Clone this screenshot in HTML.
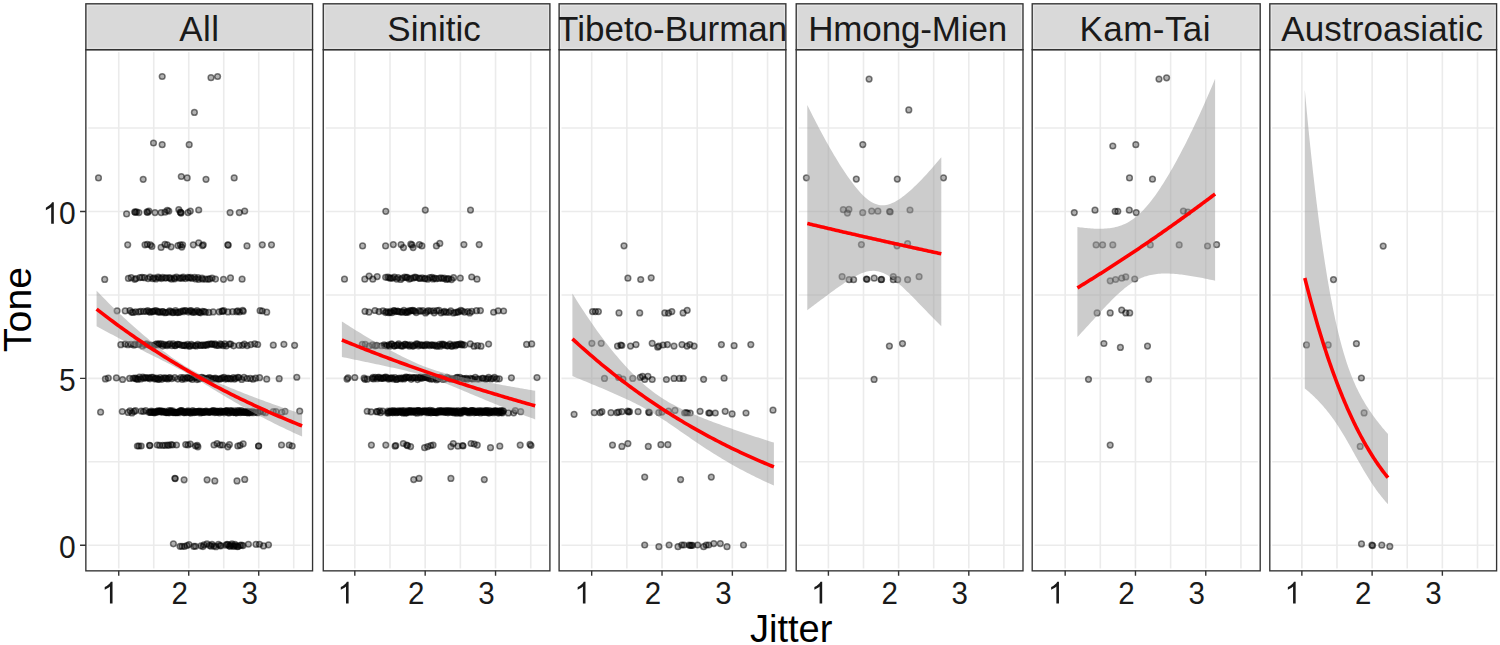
<!DOCTYPE html><html><head><meta charset="utf-8"><style>html,body{margin:0;padding:0;background:#fff;overflow:hidden}svg{display:block}text{font-family:"Liberation Sans",sans-serif}</style></head><body>
<svg width="1500" height="645" viewBox="0 0 1500 645">
<rect width="1500" height="645" fill="#fff"/>
<rect x="85.85" y="3.80" width="226.71" height="45.90" fill="#D9D9D9"/>
<rect x="87.35" y="5.30" width="223.71" height="42.90" fill="none" stroke="#E6E6E6" stroke-width="1"/>
<rect x="85.85" y="49.70" width="226.71" height="521.15" fill="#fff"/>
<path d="M118.74 49.70V570.85M153.74 49.70V570.85M188.73 49.70V570.85M223.73 49.70V570.85M258.72 49.70V570.85M293.72 49.70V570.85M85.85 545.26H312.56M85.85 461.82H312.56M85.85 378.38H312.56M85.85 294.94H312.56M85.85 211.50H312.56M85.85 128.06H312.56" stroke="#EBEBEB" stroke-width="1.6" fill="none"/>
<rect x="87.45" y="51.30" width="223.51" height="517.95" fill="none" stroke="#fff" stroke-width="1.6"/>
<g clip-path="url(#c0)">
<clipPath id="c0"><rect x="85.85" y="49.70" width="226.71" height="521.15"/></clipPath>
<g fill="#000" fill-opacity="0.3" stroke="#000" stroke-opacity="0.5" stroke-width="1.5">
<circle cx="104.70" cy="279.39" r="2.85"/>
<circle cx="128.40" cy="278.45" r="2.85"/>
<circle cx="223.50" cy="279.28" r="2.85"/>
<circle cx="230.50" cy="277.94" r="2.85"/>
<circle cx="242.10" cy="279.13" r="2.85"/>
<circle cx="131.26" cy="277.67" r="2.85"/>
<circle cx="134.73" cy="279.32" r="2.85"/>
<circle cx="136.01" cy="278.48" r="2.85"/>
<circle cx="139.89" cy="277.57" r="2.85"/>
<circle cx="142.09" cy="277.39" r="2.85"/>
<circle cx="144.48" cy="277.66" r="2.85"/>
<circle cx="148.09" cy="278.62" r="2.85"/>
<circle cx="149.97" cy="277.08" r="2.85"/>
<circle cx="152.62" cy="278.68" r="2.85"/>
<circle cx="154.14" cy="277.80" r="2.85"/>
<circle cx="155.88" cy="278.96" r="2.85"/>
<circle cx="158.07" cy="277.20" r="2.85"/>
<circle cx="159.17" cy="278.00" r="2.85"/>
<circle cx="161.50" cy="278.59" r="2.85"/>
<circle cx="162.58" cy="277.44" r="2.85"/>
<circle cx="165.12" cy="278.04" r="2.85"/>
<circle cx="166.28" cy="277.79" r="2.85"/>
<circle cx="168.91" cy="277.80" r="2.85"/>
<circle cx="170.09" cy="277.91" r="2.85"/>
<circle cx="171.60" cy="279.13" r="2.85"/>
<circle cx="174.11" cy="277.92" r="2.85"/>
<circle cx="174.73" cy="278.80" r="2.85"/>
<circle cx="176.45" cy="277.07" r="2.85"/>
<circle cx="179.12" cy="278.07" r="2.85"/>
<circle cx="180.72" cy="278.03" r="2.85"/>
<circle cx="182.52" cy="278.16" r="2.85"/>
<circle cx="183.25" cy="277.09" r="2.85"/>
<circle cx="185.50" cy="278.59" r="2.85"/>
<circle cx="187.71" cy="277.26" r="2.85"/>
<circle cx="189.02" cy="277.94" r="2.85"/>
<circle cx="190.58" cy="277.40" r="2.85"/>
<circle cx="191.99" cy="278.30" r="2.85"/>
<circle cx="194.58" cy="277.31" r="2.85"/>
<circle cx="195.70" cy="278.98" r="2.85"/>
<circle cx="198.07" cy="277.52" r="2.85"/>
<circle cx="198.63" cy="279.32" r="2.85"/>
<circle cx="202.01" cy="278.21" r="2.85"/>
<circle cx="202.61" cy="279.27" r="2.85"/>
<circle cx="205.51" cy="279.22" r="2.85"/>
<circle cx="208.22" cy="279.03" r="2.85"/>
<circle cx="209.66" cy="278.94" r="2.85"/>
<circle cx="212.06" cy="278.02" r="2.85"/>
<circle cx="215.49" cy="279.04" r="2.85"/>
<circle cx="117.10" cy="310.87" r="2.85"/>
<circle cx="125.20" cy="310.95" r="2.85"/>
<circle cx="222.70" cy="311.39" r="2.85"/>
<circle cx="236.70" cy="311.67" r="2.85"/>
<circle cx="243.30" cy="311.35" r="2.85"/>
<circle cx="260.10" cy="310.72" r="2.85"/>
<circle cx="262.30" cy="311.02" r="2.85"/>
<circle cx="266.70" cy="312.17" r="2.85"/>
<circle cx="129.95" cy="310.53" r="2.85"/>
<circle cx="131.68" cy="312.25" r="2.85"/>
<circle cx="133.06" cy="312.44" r="2.85"/>
<circle cx="135.59" cy="311.87" r="2.85"/>
<circle cx="138.79" cy="311.93" r="2.85"/>
<circle cx="140.70" cy="311.44" r="2.85"/>
<circle cx="143.59" cy="311.45" r="2.85"/>
<circle cx="146.11" cy="311.50" r="2.85"/>
<circle cx="147.65" cy="310.48" r="2.85"/>
<circle cx="149.29" cy="311.60" r="2.85"/>
<circle cx="150.29" cy="312.26" r="2.85"/>
<circle cx="152.36" cy="311.53" r="2.85"/>
<circle cx="153.10" cy="311.56" r="2.85"/>
<circle cx="154.46" cy="310.74" r="2.85"/>
<circle cx="156.26" cy="310.65" r="2.85"/>
<circle cx="157.72" cy="311.65" r="2.85"/>
<circle cx="158.69" cy="311.96" r="2.85"/>
<circle cx="160.17" cy="312.19" r="2.85"/>
<circle cx="162.41" cy="311.65" r="2.85"/>
<circle cx="163.02" cy="311.64" r="2.85"/>
<circle cx="164.83" cy="312.71" r="2.85"/>
<circle cx="165.99" cy="312.49" r="2.85"/>
<circle cx="168.41" cy="312.19" r="2.85"/>
<circle cx="169.64" cy="310.89" r="2.85"/>
<circle cx="171.27" cy="311.61" r="2.85"/>
<circle cx="172.68" cy="312.63" r="2.85"/>
<circle cx="173.21" cy="312.32" r="2.85"/>
<circle cx="175.53" cy="310.59" r="2.85"/>
<circle cx="176.30" cy="312.24" r="2.85"/>
<circle cx="177.51" cy="312.58" r="2.85"/>
<circle cx="179.09" cy="312.39" r="2.85"/>
<circle cx="180.37" cy="311.63" r="2.85"/>
<circle cx="182.70" cy="310.93" r="2.85"/>
<circle cx="183.38" cy="311.64" r="2.85"/>
<circle cx="184.89" cy="310.52" r="2.85"/>
<circle cx="186.17" cy="310.81" r="2.85"/>
<circle cx="188.47" cy="312.06" r="2.85"/>
<circle cx="189.86" cy="310.83" r="2.85"/>
<circle cx="191.17" cy="310.70" r="2.85"/>
<circle cx="192.31" cy="311.96" r="2.85"/>
<circle cx="193.56" cy="312.52" r="2.85"/>
<circle cx="195.22" cy="311.82" r="2.85"/>
<circle cx="197.03" cy="310.68" r="2.85"/>
<circle cx="198.60" cy="311.94" r="2.85"/>
<circle cx="199.35" cy="312.34" r="2.85"/>
<circle cx="200.64" cy="312.81" r="2.85"/>
<circle cx="202.43" cy="311.29" r="2.85"/>
<circle cx="204.09" cy="311.49" r="2.85"/>
<circle cx="205.41" cy="312.21" r="2.85"/>
<circle cx="208.80" cy="312.40" r="2.85"/>
<circle cx="213.19" cy="311.96" r="2.85"/>
<circle cx="219.17" cy="311.83" r="2.85"/>
<circle cx="221.97" cy="311.18" r="2.85"/>
<circle cx="223.75" cy="310.51" r="2.85"/>
<circle cx="227.97" cy="311.91" r="2.85"/>
<circle cx="232.59" cy="311.66" r="2.85"/>
<circle cx="237.76" cy="310.74" r="2.85"/>
<circle cx="239.51" cy="312.00" r="2.85"/>
<circle cx="242.67" cy="310.43" r="2.85"/>
<circle cx="120.80" cy="344.66" r="2.85"/>
<circle cx="125.20" cy="344.06" r="2.85"/>
<circle cx="128.00" cy="344.66" r="2.85"/>
<circle cx="131.00" cy="344.34" r="2.85"/>
<circle cx="134.00" cy="345.20" r="2.85"/>
<circle cx="273.30" cy="345.22" r="2.85"/>
<circle cx="283.90" cy="344.29" r="2.85"/>
<circle cx="294.60" cy="345.30" r="2.85"/>
<circle cx="135.14" cy="344.13" r="2.85"/>
<circle cx="138.39" cy="344.39" r="2.85"/>
<circle cx="139.27" cy="344.03" r="2.85"/>
<circle cx="142.58" cy="345.90" r="2.85"/>
<circle cx="145.22" cy="344.77" r="2.85"/>
<circle cx="146.62" cy="343.83" r="2.85"/>
<circle cx="149.71" cy="345.15" r="2.85"/>
<circle cx="151.53" cy="345.35" r="2.85"/>
<circle cx="153.67" cy="346.05" r="2.85"/>
<circle cx="155.48" cy="344.40" r="2.85"/>
<circle cx="157.15" cy="343.91" r="2.85"/>
<circle cx="158.18" cy="344.78" r="2.85"/>
<circle cx="159.31" cy="343.94" r="2.85"/>
<circle cx="161.41" cy="343.83" r="2.85"/>
<circle cx="162.62" cy="346.06" r="2.85"/>
<circle cx="163.60" cy="344.28" r="2.85"/>
<circle cx="165.62" cy="345.02" r="2.85"/>
<circle cx="167.13" cy="345.75" r="2.85"/>
<circle cx="168.05" cy="344.55" r="2.85"/>
<circle cx="169.67" cy="343.92" r="2.85"/>
<circle cx="171.83" cy="345.68" r="2.85"/>
<circle cx="173.10" cy="343.82" r="2.85"/>
<circle cx="174.72" cy="345.59" r="2.85"/>
<circle cx="175.75" cy="345.58" r="2.85"/>
<circle cx="177.20" cy="344.35" r="2.85"/>
<circle cx="178.26" cy="344.36" r="2.85"/>
<circle cx="179.65" cy="344.61" r="2.85"/>
<circle cx="181.96" cy="345.47" r="2.85"/>
<circle cx="183.54" cy="345.51" r="2.85"/>
<circle cx="184.33" cy="345.13" r="2.85"/>
<circle cx="186.00" cy="345.69" r="2.85"/>
<circle cx="187.58" cy="344.44" r="2.85"/>
<circle cx="189.18" cy="346.12" r="2.85"/>
<circle cx="190.15" cy="345.92" r="2.85"/>
<circle cx="191.38" cy="344.43" r="2.85"/>
<circle cx="193.11" cy="345.59" r="2.85"/>
<circle cx="195.42" cy="345.59" r="2.85"/>
<circle cx="196.16" cy="345.92" r="2.85"/>
<circle cx="197.63" cy="344.38" r="2.85"/>
<circle cx="199.78" cy="345.32" r="2.85"/>
<circle cx="201.00" cy="345.40" r="2.85"/>
<circle cx="202.80" cy="344.93" r="2.85"/>
<circle cx="204.11" cy="345.48" r="2.85"/>
<circle cx="205.60" cy="344.85" r="2.85"/>
<circle cx="206.92" cy="345.17" r="2.85"/>
<circle cx="207.90" cy="344.31" r="2.85"/>
<circle cx="209.74" cy="343.99" r="2.85"/>
<circle cx="211.55" cy="344.15" r="2.85"/>
<circle cx="211.98" cy="344.06" r="2.85"/>
<circle cx="214.51" cy="344.63" r="2.85"/>
<circle cx="215.05" cy="343.87" r="2.85"/>
<circle cx="216.40" cy="345.47" r="2.85"/>
<circle cx="218.57" cy="345.48" r="2.85"/>
<circle cx="220.16" cy="343.96" r="2.85"/>
<circle cx="221.46" cy="344.68" r="2.85"/>
<circle cx="223.20" cy="345.77" r="2.85"/>
<circle cx="224.75" cy="343.96" r="2.85"/>
<circle cx="226.20" cy="346.00" r="2.85"/>
<circle cx="229.37" cy="344.06" r="2.85"/>
<circle cx="230.74" cy="344.07" r="2.85"/>
<circle cx="233.63" cy="345.84" r="2.85"/>
<circle cx="239.06" cy="345.32" r="2.85"/>
<circle cx="242.45" cy="345.32" r="2.85"/>
<circle cx="244.36" cy="344.04" r="2.85"/>
<circle cx="247.20" cy="345.62" r="2.85"/>
<circle cx="250.83" cy="344.57" r="2.85"/>
<circle cx="254.77" cy="343.86" r="2.85"/>
<circle cx="257.67" cy="344.48" r="2.85"/>
<circle cx="105.40" cy="378.90" r="2.85"/>
<circle cx="108.30" cy="378.06" r="2.85"/>
<circle cx="116.40" cy="377.95" r="2.85"/>
<circle cx="122.60" cy="379.49" r="2.85"/>
<circle cx="129.60" cy="378.39" r="2.85"/>
<circle cx="266.70" cy="379.22" r="2.85"/>
<circle cx="279.20" cy="378.66" r="2.85"/>
<circle cx="296.80" cy="377.26" r="2.85"/>
<circle cx="133.07" cy="378.23" r="2.85"/>
<circle cx="134.76" cy="378.01" r="2.85"/>
<circle cx="136.01" cy="378.47" r="2.85"/>
<circle cx="136.81" cy="379.25" r="2.85"/>
<circle cx="137.99" cy="379.15" r="2.85"/>
<circle cx="139.39" cy="377.18" r="2.85"/>
<circle cx="140.74" cy="379.01" r="2.85"/>
<circle cx="142.88" cy="377.19" r="2.85"/>
<circle cx="143.68" cy="378.36" r="2.85"/>
<circle cx="145.32" cy="377.62" r="2.85"/>
<circle cx="146.32" cy="378.01" r="2.85"/>
<circle cx="147.99" cy="377.81" r="2.85"/>
<circle cx="149.42" cy="377.86" r="2.85"/>
<circle cx="149.98" cy="378.86" r="2.85"/>
<circle cx="151.59" cy="377.45" r="2.85"/>
<circle cx="153.05" cy="377.38" r="2.85"/>
<circle cx="154.53" cy="378.85" r="2.85"/>
<circle cx="155.84" cy="378.69" r="2.85"/>
<circle cx="156.71" cy="378.14" r="2.85"/>
<circle cx="158.07" cy="379.32" r="2.85"/>
<circle cx="159.05" cy="379.31" r="2.85"/>
<circle cx="160.31" cy="377.68" r="2.85"/>
<circle cx="161.87" cy="379.34" r="2.85"/>
<circle cx="163.44" cy="378.09" r="2.85"/>
<circle cx="165.16" cy="377.74" r="2.85"/>
<circle cx="166.03" cy="378.46" r="2.85"/>
<circle cx="167.66" cy="378.99" r="2.85"/>
<circle cx="168.86" cy="378.02" r="2.85"/>
<circle cx="169.84" cy="377.55" r="2.85"/>
<circle cx="171.70" cy="378.77" r="2.85"/>
<circle cx="174.77" cy="377.59" r="2.85"/>
<circle cx="177.80" cy="379.04" r="2.85"/>
<circle cx="180.84" cy="377.48" r="2.85"/>
<circle cx="182.19" cy="379.30" r="2.85"/>
<circle cx="183.41" cy="377.64" r="2.85"/>
<circle cx="184.98" cy="378.87" r="2.85"/>
<circle cx="187.11" cy="377.55" r="2.85"/>
<circle cx="187.79" cy="377.77" r="2.85"/>
<circle cx="189.48" cy="378.43" r="2.85"/>
<circle cx="190.77" cy="377.97" r="2.85"/>
<circle cx="192.29" cy="379.52" r="2.85"/>
<circle cx="194.43" cy="377.43" r="2.85"/>
<circle cx="196.20" cy="377.43" r="2.85"/>
<circle cx="197.00" cy="379.54" r="2.85"/>
<circle cx="198.98" cy="378.94" r="2.85"/>
<circle cx="200.04" cy="377.65" r="2.85"/>
<circle cx="201.77" cy="377.44" r="2.85"/>
<circle cx="202.74" cy="378.11" r="2.85"/>
<circle cx="204.03" cy="378.14" r="2.85"/>
<circle cx="206.42" cy="378.84" r="2.85"/>
<circle cx="207.56" cy="378.70" r="2.85"/>
<circle cx="209.01" cy="377.52" r="2.85"/>
<circle cx="210.67" cy="378.15" r="2.85"/>
<circle cx="212.32" cy="379.36" r="2.85"/>
<circle cx="213.44" cy="378.56" r="2.85"/>
<circle cx="215.31" cy="378.19" r="2.85"/>
<circle cx="216.18" cy="378.91" r="2.85"/>
<circle cx="218.45" cy="379.04" r="2.85"/>
<circle cx="219.72" cy="379.22" r="2.85"/>
<circle cx="221.19" cy="378.72" r="2.85"/>
<circle cx="222.41" cy="377.93" r="2.85"/>
<circle cx="224.11" cy="377.42" r="2.85"/>
<circle cx="225.35" cy="379.06" r="2.85"/>
<circle cx="227.19" cy="378.69" r="2.85"/>
<circle cx="228.13" cy="378.20" r="2.85"/>
<circle cx="229.86" cy="378.67" r="2.85"/>
<circle cx="231.30" cy="378.80" r="2.85"/>
<circle cx="233.40" cy="377.62" r="2.85"/>
<circle cx="234.57" cy="379.05" r="2.85"/>
<circle cx="235.74" cy="378.36" r="2.85"/>
<circle cx="237.93" cy="377.27" r="2.85"/>
<circle cx="238.91" cy="377.57" r="2.85"/>
<circle cx="241.71" cy="379.44" r="2.85"/>
<circle cx="244.02" cy="377.42" r="2.85"/>
<circle cx="247.06" cy="378.48" r="2.85"/>
<circle cx="250.31" cy="378.41" r="2.85"/>
<circle cx="253.04" cy="379.17" r="2.85"/>
<circle cx="255.68" cy="378.17" r="2.85"/>
<circle cx="259.59" cy="377.69" r="2.85"/>
<circle cx="100.60" cy="412.20" r="2.85"/>
<circle cx="122.30" cy="411.50" r="2.85"/>
<circle cx="128.10" cy="412.39" r="2.85"/>
<circle cx="130.00" cy="410.85" r="2.85"/>
<circle cx="132.00" cy="412.92" r="2.85"/>
<circle cx="134.00" cy="411.41" r="2.85"/>
<circle cx="135.50" cy="410.69" r="2.85"/>
<circle cx="141.30" cy="411.22" r="2.85"/>
<circle cx="143.50" cy="411.52" r="2.85"/>
<circle cx="145.70" cy="410.59" r="2.85"/>
<circle cx="273.30" cy="411.56" r="2.85"/>
<circle cx="276.00" cy="411.57" r="2.85"/>
<circle cx="281.80" cy="412.23" r="2.85"/>
<circle cx="285.00" cy="411.40" r="2.85"/>
<circle cx="299.70" cy="411.19" r="2.85"/>
<circle cx="148.92" cy="412.34" r="2.85"/>
<circle cx="150.16" cy="411.82" r="2.85"/>
<circle cx="150.49" cy="412.48" r="2.85"/>
<circle cx="151.40" cy="411.07" r="2.85"/>
<circle cx="152.02" cy="412.42" r="2.85"/>
<circle cx="153.24" cy="412.08" r="2.85"/>
<circle cx="153.81" cy="411.91" r="2.85"/>
<circle cx="154.45" cy="412.87" r="2.85"/>
<circle cx="155.32" cy="412.09" r="2.85"/>
<circle cx="156.40" cy="412.51" r="2.85"/>
<circle cx="156.97" cy="411.26" r="2.85"/>
<circle cx="157.81" cy="410.85" r="2.85"/>
<circle cx="158.77" cy="411.41" r="2.85"/>
<circle cx="159.58" cy="411.20" r="2.85"/>
<circle cx="160.07" cy="411.17" r="2.85"/>
<circle cx="160.89" cy="411.00" r="2.85"/>
<circle cx="161.41" cy="412.29" r="2.85"/>
<circle cx="162.37" cy="411.15" r="2.85"/>
<circle cx="163.18" cy="411.71" r="2.85"/>
<circle cx="164.04" cy="412.09" r="2.85"/>
<circle cx="164.98" cy="411.43" r="2.85"/>
<circle cx="165.94" cy="412.61" r="2.85"/>
<circle cx="166.18" cy="412.54" r="2.85"/>
<circle cx="167.50" cy="412.44" r="2.85"/>
<circle cx="167.81" cy="412.55" r="2.85"/>
<circle cx="168.91" cy="410.59" r="2.85"/>
<circle cx="169.31" cy="412.84" r="2.85"/>
<circle cx="170.50" cy="411.16" r="2.85"/>
<circle cx="170.94" cy="410.90" r="2.85"/>
<circle cx="171.81" cy="412.42" r="2.85"/>
<circle cx="172.67" cy="410.92" r="2.85"/>
<circle cx="173.82" cy="412.46" r="2.85"/>
<circle cx="174.14" cy="412.69" r="2.85"/>
<circle cx="175.21" cy="412.43" r="2.85"/>
<circle cx="176.03" cy="412.70" r="2.85"/>
<circle cx="176.90" cy="412.57" r="2.85"/>
<circle cx="177.31" cy="412.22" r="2.85"/>
<circle cx="178.32" cy="412.34" r="2.85"/>
<circle cx="179.04" cy="412.67" r="2.85"/>
<circle cx="179.91" cy="411.19" r="2.85"/>
<circle cx="180.50" cy="410.89" r="2.85"/>
<circle cx="181.45" cy="410.69" r="2.85"/>
<circle cx="182.22" cy="410.90" r="2.85"/>
<circle cx="183.03" cy="411.75" r="2.85"/>
<circle cx="183.84" cy="412.63" r="2.85"/>
<circle cx="184.30" cy="412.57" r="2.85"/>
<circle cx="185.38" cy="411.91" r="2.85"/>
<circle cx="186.29" cy="412.57" r="2.85"/>
<circle cx="186.90" cy="411.56" r="2.85"/>
<circle cx="188.06" cy="410.74" r="2.85"/>
<circle cx="188.65" cy="412.08" r="2.85"/>
<circle cx="189.04" cy="412.02" r="2.85"/>
<circle cx="190.25" cy="412.79" r="2.85"/>
<circle cx="190.82" cy="412.91" r="2.85"/>
<circle cx="191.72" cy="411.72" r="2.85"/>
<circle cx="192.75" cy="410.64" r="2.85"/>
<circle cx="193.43" cy="412.06" r="2.85"/>
<circle cx="193.98" cy="412.62" r="2.85"/>
<circle cx="194.78" cy="411.70" r="2.85"/>
<circle cx="195.67" cy="412.41" r="2.85"/>
<circle cx="196.27" cy="411.60" r="2.85"/>
<circle cx="197.19" cy="411.89" r="2.85"/>
<circle cx="198.23" cy="411.26" r="2.85"/>
<circle cx="199.03" cy="411.53" r="2.85"/>
<circle cx="199.61" cy="411.21" r="2.85"/>
<circle cx="200.40" cy="412.90" r="2.85"/>
<circle cx="201.28" cy="412.46" r="2.85"/>
<circle cx="201.87" cy="411.32" r="2.85"/>
<circle cx="202.64" cy="411.96" r="2.85"/>
<circle cx="203.64" cy="412.44" r="2.85"/>
<circle cx="204.05" cy="412.29" r="2.85"/>
<circle cx="205.37" cy="411.87" r="2.85"/>
<circle cx="205.63" cy="411.28" r="2.85"/>
<circle cx="206.40" cy="411.01" r="2.85"/>
<circle cx="207.76" cy="412.02" r="2.85"/>
<circle cx="208.38" cy="412.45" r="2.85"/>
<circle cx="209.34" cy="412.02" r="2.85"/>
<circle cx="209.94" cy="412.06" r="2.85"/>
<circle cx="210.78" cy="411.99" r="2.85"/>
<circle cx="211.56" cy="411.07" r="2.85"/>
<circle cx="212.34" cy="411.66" r="2.85"/>
<circle cx="213.19" cy="410.80" r="2.85"/>
<circle cx="213.61" cy="410.64" r="2.85"/>
<circle cx="214.77" cy="412.75" r="2.85"/>
<circle cx="215.49" cy="411.44" r="2.85"/>
<circle cx="216.38" cy="412.44" r="2.85"/>
<circle cx="217.01" cy="411.18" r="2.85"/>
<circle cx="217.64" cy="411.57" r="2.85"/>
<circle cx="218.43" cy="411.59" r="2.85"/>
<circle cx="219.43" cy="412.80" r="2.85"/>
<circle cx="219.85" cy="411.92" r="2.85"/>
<circle cx="220.62" cy="410.84" r="2.85"/>
<circle cx="221.90" cy="411.94" r="2.85"/>
<circle cx="222.76" cy="411.63" r="2.85"/>
<circle cx="222.98" cy="411.49" r="2.85"/>
<circle cx="224.13" cy="412.81" r="2.85"/>
<circle cx="225.17" cy="411.70" r="2.85"/>
<circle cx="225.59" cy="410.80" r="2.85"/>
<circle cx="226.53" cy="411.07" r="2.85"/>
<circle cx="227.01" cy="410.59" r="2.85"/>
<circle cx="227.71" cy="412.20" r="2.85"/>
<circle cx="228.57" cy="412.87" r="2.85"/>
<circle cx="229.34" cy="412.64" r="2.85"/>
<circle cx="230.15" cy="410.60" r="2.85"/>
<circle cx="231.31" cy="411.14" r="2.85"/>
<circle cx="232.11" cy="411.01" r="2.85"/>
<circle cx="232.47" cy="412.41" r="2.85"/>
<circle cx="233.68" cy="412.61" r="2.85"/>
<circle cx="234.48" cy="410.76" r="2.85"/>
<circle cx="235.20" cy="412.26" r="2.85"/>
<circle cx="235.88" cy="412.79" r="2.85"/>
<circle cx="236.55" cy="412.87" r="2.85"/>
<circle cx="237.63" cy="410.58" r="2.85"/>
<circle cx="237.97" cy="412.12" r="2.85"/>
<circle cx="239.27" cy="410.75" r="2.85"/>
<circle cx="239.74" cy="412.31" r="2.85"/>
<circle cx="240.43" cy="412.62" r="2.85"/>
<circle cx="241.43" cy="410.70" r="2.85"/>
<circle cx="242.14" cy="411.94" r="2.85"/>
<circle cx="242.97" cy="412.18" r="2.85"/>
<circle cx="243.58" cy="412.47" r="2.85"/>
<circle cx="244.51" cy="412.10" r="2.85"/>
<circle cx="245.46" cy="411.56" r="2.85"/>
<circle cx="246.10" cy="412.44" r="2.85"/>
<circle cx="247.24" cy="412.44" r="2.85"/>
<circle cx="247.79" cy="411.26" r="2.85"/>
<circle cx="248.26" cy="412.89" r="2.85"/>
<circle cx="249.45" cy="412.54" r="2.85"/>
<circle cx="250.01" cy="412.01" r="2.85"/>
<circle cx="251.21" cy="412.55" r="2.85"/>
<circle cx="252.36" cy="411.30" r="2.85"/>
<circle cx="253.95" cy="412.69" r="2.85"/>
<circle cx="255.71" cy="412.20" r="2.85"/>
<circle cx="257.88" cy="412.71" r="2.85"/>
<circle cx="260.02" cy="411.24" r="2.85"/>
<circle cx="260.67" cy="411.19" r="2.85"/>
<circle cx="263.13" cy="411.96" r="2.85"/>
<circle cx="265.54" cy="412.69" r="2.85"/>
<circle cx="162.20" cy="76.50" r="2.85"/>
<circle cx="211.00" cy="77.70" r="2.85"/>
<circle cx="217.60" cy="76.50" r="2.85"/>
<circle cx="194.40" cy="112.40" r="2.85"/>
<circle cx="153.50" cy="143.00" r="2.85"/>
<circle cx="162.20" cy="144.70" r="2.85"/>
<circle cx="189.20" cy="144.70" r="2.85"/>
<circle cx="98.50" cy="177.90" r="2.85"/>
<circle cx="143.20" cy="179.30" r="2.85"/>
<circle cx="181.30" cy="176.50" r="2.85"/>
<circle cx="187.20" cy="177.90" r="2.85"/>
<circle cx="206.00" cy="179.30" r="2.85"/>
<circle cx="234.20" cy="177.90" r="2.85"/>
<circle cx="126.60" cy="213.90" r="2.85"/>
<circle cx="134.80" cy="211.90" r="2.85"/>
<circle cx="135.20" cy="212.30" r="2.85"/>
<circle cx="136.60" cy="211.90" r="2.85"/>
<circle cx="138.90" cy="212.60" r="2.85"/>
<circle cx="147.00" cy="211.90" r="2.85"/>
<circle cx="147.60" cy="212.40" r="2.85"/>
<circle cx="148.90" cy="211.10" r="2.85"/>
<circle cx="155.00" cy="212.60" r="2.85"/>
<circle cx="161.10" cy="212.60" r="2.85"/>
<circle cx="165.00" cy="212.20" r="2.85"/>
<circle cx="167.30" cy="210.30" r="2.85"/>
<circle cx="168.80" cy="211.10" r="2.85"/>
<circle cx="178.80" cy="209.60" r="2.85"/>
<circle cx="180.30" cy="212.20" r="2.85"/>
<circle cx="180.80" cy="212.60" r="2.85"/>
<circle cx="181.10" cy="213.10" r="2.85"/>
<circle cx="188.00" cy="212.60" r="2.85"/>
<circle cx="190.30" cy="211.10" r="2.85"/>
<circle cx="198.70" cy="210.00" r="2.85"/>
<circle cx="230.10" cy="212.60" r="2.85"/>
<circle cx="239.30" cy="212.60" r="2.85"/>
<circle cx="244.70" cy="211.10" r="2.85"/>
<circle cx="127.70" cy="244.80" r="2.85"/>
<circle cx="145.00" cy="244.80" r="2.85"/>
<circle cx="147.30" cy="244.40" r="2.85"/>
<circle cx="150.40" cy="244.80" r="2.85"/>
<circle cx="151.90" cy="246.40" r="2.85"/>
<circle cx="161.10" cy="247.40" r="2.85"/>
<circle cx="165.00" cy="244.40" r="2.85"/>
<circle cx="167.30" cy="244.80" r="2.85"/>
<circle cx="171.10" cy="246.80" r="2.85"/>
<circle cx="178.00" cy="245.60" r="2.85"/>
<circle cx="180.30" cy="244.80" r="2.85"/>
<circle cx="182.60" cy="244.80" r="2.85"/>
<circle cx="181.80" cy="247.10" r="2.85"/>
<circle cx="193.30" cy="244.80" r="2.85"/>
<circle cx="198.70" cy="242.80" r="2.85"/>
<circle cx="202.50" cy="245.60" r="2.85"/>
<circle cx="203.30" cy="244.80" r="2.85"/>
<circle cx="227.80" cy="244.80" r="2.85"/>
<circle cx="228.20" cy="245.20" r="2.85"/>
<circle cx="247.00" cy="245.90" r="2.85"/>
<circle cx="262.30" cy="244.80" r="2.85"/>
<circle cx="271.50" cy="244.80" r="2.85"/>
<circle cx="137.40" cy="446.00" r="2.85"/>
<circle cx="138.90" cy="446.00" r="2.85"/>
<circle cx="141.20" cy="446.00" r="2.85"/>
<circle cx="149.60" cy="445.30" r="2.85"/>
<circle cx="149.80" cy="445.60" r="2.85"/>
<circle cx="157.30" cy="445.00" r="2.85"/>
<circle cx="159.60" cy="445.30" r="2.85"/>
<circle cx="162.70" cy="445.30" r="2.85"/>
<circle cx="165.00" cy="445.30" r="2.85"/>
<circle cx="167.30" cy="445.00" r="2.85"/>
<circle cx="168.80" cy="445.30" r="2.85"/>
<circle cx="171.10" cy="444.60" r="2.85"/>
<circle cx="172.60" cy="445.00" r="2.85"/>
<circle cx="176.50" cy="445.00" r="2.85"/>
<circle cx="185.70" cy="444.60" r="2.85"/>
<circle cx="188.00" cy="445.00" r="2.85"/>
<circle cx="190.30" cy="444.00" r="2.85"/>
<circle cx="195.60" cy="446.00" r="2.85"/>
<circle cx="197.20" cy="445.30" r="2.85"/>
<circle cx="197.90" cy="446.80" r="2.85"/>
<circle cx="214.00" cy="445.00" r="2.85"/>
<circle cx="217.10" cy="443.50" r="2.85"/>
<circle cx="220.20" cy="445.00" r="2.85"/>
<circle cx="222.50" cy="445.00" r="2.85"/>
<circle cx="227.80" cy="446.80" r="2.85"/>
<circle cx="229.40" cy="444.60" r="2.85"/>
<circle cx="237.80" cy="446.00" r="2.85"/>
<circle cx="240.10" cy="445.30" r="2.85"/>
<circle cx="243.20" cy="443.80" r="2.85"/>
<circle cx="258.50" cy="446.00" r="2.85"/>
<circle cx="258.70" cy="446.00" r="2.85"/>
<circle cx="281.50" cy="445.00" r="2.85"/>
<circle cx="289.20" cy="445.00" r="2.85"/>
<circle cx="292.20" cy="446.00" r="2.85"/>
<circle cx="174.90" cy="478.30" r="2.85"/>
<circle cx="175.20" cy="478.60" r="2.85"/>
<circle cx="184.10" cy="479.80" r="2.85"/>
<circle cx="207.10" cy="479.80" r="2.85"/>
<circle cx="214.80" cy="480.90" r="2.85"/>
<circle cx="237.00" cy="480.90" r="2.85"/>
<circle cx="244.70" cy="479.40" r="2.85"/>
<circle cx="173.40" cy="543.79" r="2.85"/>
<circle cx="180.00" cy="546.32" r="2.85"/>
<circle cx="182.00" cy="546.26" r="2.85"/>
<circle cx="184.50" cy="546.43" r="2.85"/>
<circle cx="187.00" cy="545.49" r="2.85"/>
<circle cx="189.00" cy="544.54" r="2.85"/>
<circle cx="193.80" cy="546.38" r="2.85"/>
<circle cx="195.50" cy="546.24" r="2.85"/>
<circle cx="201.00" cy="545.85" r="2.85"/>
<circle cx="203.00" cy="546.59" r="2.85"/>
<circle cx="204.00" cy="544.77" r="2.85"/>
<circle cx="207.00" cy="543.93" r="2.85"/>
<circle cx="209.50" cy="545.43" r="2.85"/>
<circle cx="211.00" cy="546.21" r="2.85"/>
<circle cx="212.00" cy="544.30" r="2.85"/>
<circle cx="214.00" cy="546.06" r="2.85"/>
<circle cx="216.00" cy="546.64" r="2.85"/>
<circle cx="218.50" cy="544.41" r="2.85"/>
<circle cx="220.00" cy="545.60" r="2.85"/>
<circle cx="221.00" cy="545.83" r="2.85"/>
<circle cx="226.00" cy="545.15" r="2.85"/>
<circle cx="227.00" cy="544.32" r="2.85"/>
<circle cx="228.00" cy="544.48" r="2.85"/>
<circle cx="229.50" cy="546.06" r="2.85"/>
<circle cx="230.00" cy="546.19" r="2.85"/>
<circle cx="231.00" cy="545.13" r="2.85"/>
<circle cx="232.00" cy="543.94" r="2.85"/>
<circle cx="233.50" cy="546.24" r="2.85"/>
<circle cx="234.00" cy="546.13" r="2.85"/>
<circle cx="235.00" cy="544.41" r="2.85"/>
<circle cx="236.00" cy="545.51" r="2.85"/>
<circle cx="237.50" cy="546.53" r="2.85"/>
<circle cx="238.00" cy="546.49" r="2.85"/>
<circle cx="240.00" cy="545.33" r="2.85"/>
<circle cx="241.50" cy="545.19" r="2.85"/>
<circle cx="243.00" cy="545.55" r="2.85"/>
<circle cx="248.40" cy="544.27" r="2.85"/>
<circle cx="256.00" cy="544.28" r="2.85"/>
<circle cx="259.50" cy="544.24" r="2.85"/>
<circle cx="263.50" cy="545.90" r="2.85"/>
<circle cx="268.50" cy="544.82" r="2.85"/>
</g>
<path d="M96.60 290.75L98.88 293.12L101.17 295.47L103.45 297.80L105.74 300.10L108.02 302.38L110.30 304.64L112.58 306.88L114.87 309.09L117.15 311.29L119.43 313.46L121.71 315.61L124.00 317.74L126.28 319.85L128.57 321.93L130.85 324.00L133.13 326.04L135.42 328.07L137.70 330.07L139.98 332.05L142.26 334.01L144.55 335.95L146.83 337.86L149.12 339.76L151.40 341.63L153.69 343.48L155.97 345.31L158.25 347.11L160.53 348.89L162.82 350.64L165.10 352.37L167.38 354.07L169.66 355.74L171.95 357.38L174.24 358.98L176.52 360.55L178.80 362.08L181.08 363.56L183.37 365.01L185.65 366.41L187.93 367.77L190.21 369.08L192.50 370.36L194.78 371.59L197.07 372.79L199.35 373.95L201.64 375.08L203.92 376.19L206.20 377.28L208.48 378.34L210.77 379.38L213.05 380.41L215.33 381.42L217.61 382.42L219.90 383.41L222.19 384.38L224.47 385.35L226.75 386.31L229.03 387.25L231.32 388.19L233.60 389.12L235.88 390.04L238.16 390.96L240.45 391.86L242.73 392.76L245.02 393.65L247.30 394.54L249.59 395.42L251.87 396.30L254.15 397.16L256.43 398.03L258.72 398.88L261.00 399.73L263.28 400.58L265.57 401.42L267.85 402.25L270.14 403.08L272.42 403.90L274.70 404.72L276.98 405.53L279.27 406.34L281.55 407.15L283.83 407.94L286.11 408.74L288.40 409.53L290.68 410.31L292.97 411.09L295.25 411.86L297.54 412.63L299.82 413.40L302.10 414.16L302.10 436.58L299.82 435.55L297.54 434.52L295.25 433.48L292.97 432.42L290.68 431.36L288.40 430.29L286.11 429.20L283.83 428.11L281.55 427.01L279.27 425.90L276.98 424.78L274.70 423.64L272.42 422.50L270.14 421.35L267.85 420.18L265.57 419.01L263.28 417.82L261.00 416.63L258.72 415.42L256.43 414.21L254.15 412.98L251.87 411.74L249.59 410.49L247.30 409.23L245.02 407.96L242.73 406.68L240.45 405.39L238.16 404.09L235.88 402.77L233.60 401.45L231.32 400.11L229.03 398.77L226.75 397.42L224.47 396.06L222.19 394.69L219.90 393.31L217.61 391.92L215.33 390.53L213.05 389.13L210.77 387.73L208.48 386.32L206.20 384.92L203.92 383.51L201.64 382.11L199.35 380.71L197.07 379.32L194.78 377.95L192.50 376.59L190.21 375.25L187.93 373.93L185.65 372.63L183.37 371.36L181.08 370.11L178.80 368.88L176.52 367.67L174.24 366.47L171.95 365.29L169.66 364.12L167.38 362.96L165.10 361.80L162.82 360.65L160.53 359.50L158.25 358.36L155.97 357.22L153.69 356.07L151.40 354.93L149.12 353.78L146.83 352.63L144.55 351.48L142.26 350.32L139.98 349.16L137.70 348.00L135.42 346.83L133.13 345.66L130.85 344.48L128.57 343.30L126.28 342.11L124.00 340.92L121.71 339.72L119.43 338.52L117.15 337.31L114.87 336.09L112.58 334.87L110.30 333.64L108.02 332.41L105.74 331.17L103.45 329.92L101.17 328.66L98.88 327.40L96.60 326.14Z" fill="#999999" fill-opacity="0.5"/>
<path d="M96.60 309.10L98.88 310.89L101.17 312.66L103.45 314.41L105.74 316.16L108.02 317.89L110.30 319.61L112.58 321.31L114.87 323.00L117.15 324.68L119.43 326.35L121.71 328.00L124.00 329.64L126.28 331.27L128.57 332.89L130.85 334.49L133.13 336.08L135.42 337.66L137.70 339.23L139.98 340.79L142.26 342.33L144.55 343.86L146.83 345.38L149.12 346.89L151.40 348.39L153.69 349.88L155.97 351.35L158.25 352.82L160.53 354.27L162.82 355.71L165.10 357.14L167.38 358.56L169.66 359.98L171.95 361.37L174.24 362.76L176.52 364.14L178.80 365.51L181.08 366.87L183.37 368.21L185.65 369.55L187.93 370.88L190.21 372.20L192.50 373.50L194.78 374.80L197.07 376.09L199.35 377.37L201.64 378.63L203.92 379.89L206.20 381.14L208.48 382.38L210.77 383.61L213.05 384.83L215.33 386.04L217.61 387.24L219.90 388.44L222.19 389.62L224.47 390.80L226.75 391.96L229.03 393.12L231.32 394.27L233.60 395.41L235.88 396.54L238.16 397.66L240.45 398.78L242.73 399.89L245.02 400.99L247.30 402.07L249.59 403.16L251.87 404.23L254.15 405.29L256.43 406.35L258.72 407.40L261.00 408.44L263.28 409.47L265.57 410.50L267.85 411.52L270.14 412.53L272.42 413.53L274.70 414.53L276.98 415.51L279.27 416.49L281.55 417.46L283.83 418.43L286.11 419.39L288.40 420.34L290.68 421.28L292.97 422.22L295.25 423.15L297.54 424.07L299.82 424.99L302.10 425.89" stroke="#FF0000" stroke-width="3.6" fill="none" stroke-linejoin="round"/>
</g>
<rect x="85.85" y="3.80" width="226.71" height="45.90" fill="none" stroke="#333333" stroke-width="1.35"/>
<rect x="85.85" y="49.70" width="226.71" height="521.15" fill="none" stroke="#333333" stroke-width="1.35"/>
<svg x="85.85" y="3.80" width="226.71" height="45.90" overflow="hidden"><text x="113.46" y="36.80" font-size="35" letter-spacing="0.4" fill="#1A1A1A" text-anchor="middle">All</text></svg>
<path d="M112.53 603.50L109.94 603.50L109.94 586.48Q109.00 587.40 107.47 588.32Q105.95 589.24 104.72 589.70L104.72 587.12Q106.90 586.07 108.53 584.57Q110.15 583.07 110.83 581.66L112.53 581.66Z" fill="#1A1A1A"/>
<text transform="translate(179.73 603.5) scale(1 1.075)" font-size="29.5" fill="#1A1A1A" text-anchor="middle">2</text>
<text transform="translate(249.72 603.5) scale(1 1.075)" font-size="29.5" fill="#1A1A1A" text-anchor="middle">3</text>
<path d="M118.74 570.85V575.65M188.73 570.85V575.65M258.72 570.85V575.65" stroke="#333333" stroke-width="1.4"/>
<rect x="323.26" y="3.80" width="226.64" height="45.90" fill="#D9D9D9"/>
<rect x="324.76" y="5.30" width="223.64" height="42.90" fill="none" stroke="#E6E6E6" stroke-width="1"/>
<rect x="323.26" y="49.70" width="226.64" height="521.15" fill="#fff"/>
<path d="M354.81 49.70V570.85M390.00 49.70V570.85M425.18 49.70V570.85M460.37 49.70V570.85M495.55 49.70V570.85M530.74 49.70V570.85M323.26 545.26H549.90M323.26 461.82H549.90M323.26 378.38H549.90M323.26 294.94H549.90M323.26 211.50H549.90M323.26 128.06H549.90" stroke="#EBEBEB" stroke-width="1.6" fill="none"/>
<rect x="324.86" y="51.30" width="223.44" height="517.95" fill="none" stroke="#fff" stroke-width="1.6"/>
<g clip-path="url(#c1)">
<clipPath id="c1"><rect x="323.26" y="49.70" width="226.64" height="521.15"/></clipPath>
<g fill="#000" fill-opacity="0.3" stroke="#000" stroke-opacity="0.5" stroke-width="1.5">
<circle cx="385.80" cy="211.30" r="2.85"/>
<circle cx="425.30" cy="210.10" r="2.85"/>
<circle cx="470.50" cy="210.10" r="2.85"/>
<circle cx="362.60" cy="245.90" r="2.85"/>
<circle cx="385.60" cy="245.90" r="2.85"/>
<circle cx="393.30" cy="244.60" r="2.85"/>
<circle cx="401.10" cy="244.60" r="2.85"/>
<circle cx="403.50" cy="247.60" r="2.85"/>
<circle cx="410.80" cy="244.20" r="2.85"/>
<circle cx="412.00" cy="244.90" r="2.85"/>
<circle cx="413.10" cy="247.60" r="2.85"/>
<circle cx="419.40" cy="244.60" r="2.85"/>
<circle cx="421.90" cy="245.90" r="2.85"/>
<circle cx="436.40" cy="245.90" r="2.85"/>
<circle cx="439.80" cy="243.40" r="2.85"/>
<circle cx="463.90" cy="244.60" r="2.85"/>
<circle cx="479.20" cy="244.60" r="2.85"/>
<circle cx="344.50" cy="279.20" r="2.85"/>
<circle cx="364.80" cy="279.20" r="2.85"/>
<circle cx="369.10" cy="276.10" r="2.85"/>
<circle cx="372.80" cy="279.20" r="2.85"/>
<circle cx="377.20" cy="276.60" r="2.85"/>
<circle cx="460.30" cy="278.20" r="2.85"/>
<circle cx="471.70" cy="277.00" r="2.85"/>
<circle cx="477.00" cy="279.20" r="2.85"/>
<circle cx="385.65" cy="277.34" r="2.85"/>
<circle cx="387.94" cy="277.14" r="2.85"/>
<circle cx="389.59" cy="277.90" r="2.85"/>
<circle cx="390.71" cy="278.27" r="2.85"/>
<circle cx="392.50" cy="278.08" r="2.85"/>
<circle cx="394.36" cy="277.19" r="2.85"/>
<circle cx="396.69" cy="279.10" r="2.85"/>
<circle cx="398.07" cy="277.53" r="2.85"/>
<circle cx="400.62" cy="279.42" r="2.85"/>
<circle cx="402.36" cy="277.98" r="2.85"/>
<circle cx="404.76" cy="277.07" r="2.85"/>
<circle cx="406.41" cy="277.70" r="2.85"/>
<circle cx="407.18" cy="277.26" r="2.85"/>
<circle cx="409.23" cy="279.07" r="2.85"/>
<circle cx="410.87" cy="278.47" r="2.85"/>
<circle cx="413.34" cy="277.92" r="2.85"/>
<circle cx="415.03" cy="277.11" r="2.85"/>
<circle cx="416.14" cy="277.49" r="2.85"/>
<circle cx="418.85" cy="278.07" r="2.85"/>
<circle cx="420.13" cy="278.48" r="2.85"/>
<circle cx="422.15" cy="277.73" r="2.85"/>
<circle cx="424.47" cy="278.77" r="2.85"/>
<circle cx="425.48" cy="278.45" r="2.85"/>
<circle cx="427.71" cy="279.23" r="2.85"/>
<circle cx="429.82" cy="277.70" r="2.85"/>
<circle cx="432.00" cy="277.26" r="2.85"/>
<circle cx="433.00" cy="278.92" r="2.85"/>
<circle cx="434.43" cy="278.22" r="2.85"/>
<circle cx="436.08" cy="278.69" r="2.85"/>
<circle cx="438.95" cy="278.44" r="2.85"/>
<circle cx="440.93" cy="277.77" r="2.85"/>
<circle cx="442.48" cy="278.50" r="2.85"/>
<circle cx="444.13" cy="278.14" r="2.85"/>
<circle cx="446.33" cy="279.41" r="2.85"/>
<circle cx="447.61" cy="278.68" r="2.85"/>
<circle cx="448.82" cy="278.78" r="2.85"/>
<circle cx="451.49" cy="279.53" r="2.85"/>
<circle cx="453.56" cy="277.69" r="2.85"/>
<circle cx="365.00" cy="311.35" r="2.85"/>
<circle cx="369.00" cy="312.03" r="2.85"/>
<circle cx="375.00" cy="310.48" r="2.85"/>
<circle cx="379.00" cy="311.53" r="2.85"/>
<circle cx="383.00" cy="310.83" r="2.85"/>
<circle cx="476.50" cy="310.71" r="2.85"/>
<circle cx="480.40" cy="310.57" r="2.85"/>
<circle cx="493.60" cy="312.27" r="2.85"/>
<circle cx="498.20" cy="310.74" r="2.85"/>
<circle cx="503.60" cy="311.02" r="2.85"/>
<circle cx="385.53" cy="312.59" r="2.85"/>
<circle cx="386.50" cy="311.49" r="2.85"/>
<circle cx="388.28" cy="312.63" r="2.85"/>
<circle cx="389.85" cy="312.58" r="2.85"/>
<circle cx="390.59" cy="311.41" r="2.85"/>
<circle cx="391.96" cy="312.63" r="2.85"/>
<circle cx="393.87" cy="310.72" r="2.85"/>
<circle cx="394.35" cy="310.93" r="2.85"/>
<circle cx="395.70" cy="311.59" r="2.85"/>
<circle cx="397.36" cy="311.01" r="2.85"/>
<circle cx="398.05" cy="311.42" r="2.85"/>
<circle cx="399.72" cy="311.80" r="2.85"/>
<circle cx="401.61" cy="312.12" r="2.85"/>
<circle cx="402.45" cy="311.94" r="2.85"/>
<circle cx="403.91" cy="310.47" r="2.85"/>
<circle cx="405.43" cy="312.36" r="2.85"/>
<circle cx="406.70" cy="312.40" r="2.85"/>
<circle cx="407.50" cy="311.36" r="2.85"/>
<circle cx="408.49" cy="311.98" r="2.85"/>
<circle cx="409.73" cy="310.50" r="2.85"/>
<circle cx="411.18" cy="310.75" r="2.85"/>
<circle cx="412.60" cy="310.46" r="2.85"/>
<circle cx="413.55" cy="310.72" r="2.85"/>
<circle cx="414.94" cy="311.27" r="2.85"/>
<circle cx="416.24" cy="312.60" r="2.85"/>
<circle cx="419.18" cy="310.71" r="2.85"/>
<circle cx="420.61" cy="311.23" r="2.85"/>
<circle cx="422.78" cy="310.65" r="2.85"/>
<circle cx="425.56" cy="312.91" r="2.85"/>
<circle cx="426.95" cy="311.58" r="2.85"/>
<circle cx="428.34" cy="310.59" r="2.85"/>
<circle cx="430.75" cy="311.02" r="2.85"/>
<circle cx="433.53" cy="310.75" r="2.85"/>
<circle cx="434.24" cy="312.80" r="2.85"/>
<circle cx="437.04" cy="310.71" r="2.85"/>
<circle cx="439.07" cy="310.40" r="2.85"/>
<circle cx="441.05" cy="312.87" r="2.85"/>
<circle cx="443.58" cy="312.14" r="2.85"/>
<circle cx="444.62" cy="311.28" r="2.85"/>
<circle cx="446.47" cy="312.34" r="2.85"/>
<circle cx="449.05" cy="312.35" r="2.85"/>
<circle cx="450.72" cy="310.91" r="2.85"/>
<circle cx="453.50" cy="312.89" r="2.85"/>
<circle cx="455.57" cy="312.42" r="2.85"/>
<circle cx="457.51" cy="312.25" r="2.85"/>
<circle cx="458.56" cy="311.67" r="2.85"/>
<circle cx="460.77" cy="310.40" r="2.85"/>
<circle cx="462.24" cy="311.05" r="2.85"/>
<circle cx="464.62" cy="312.13" r="2.85"/>
<circle cx="467.73" cy="311.49" r="2.85"/>
<circle cx="469.70" cy="312.90" r="2.85"/>
<circle cx="471.73" cy="311.28" r="2.85"/>
<circle cx="362.31" cy="344.29" r="2.85"/>
<circle cx="365.20" cy="344.24" r="2.85"/>
<circle cx="369.14" cy="346.05" r="2.85"/>
<circle cx="372.58" cy="344.95" r="2.85"/>
<circle cx="375.08" cy="345.78" r="2.85"/>
<circle cx="376.68" cy="345.42" r="2.85"/>
<circle cx="381.56" cy="345.74" r="2.85"/>
<circle cx="384.12" cy="344.95" r="2.85"/>
<circle cx="385.32" cy="345.75" r="2.85"/>
<circle cx="386.82" cy="345.78" r="2.85"/>
<circle cx="388.83" cy="344.73" r="2.85"/>
<circle cx="389.56" cy="346.17" r="2.85"/>
<circle cx="391.24" cy="344.15" r="2.85"/>
<circle cx="391.94" cy="344.10" r="2.85"/>
<circle cx="394.10" cy="345.80" r="2.85"/>
<circle cx="394.63" cy="345.85" r="2.85"/>
<circle cx="396.85" cy="345.41" r="2.85"/>
<circle cx="397.51" cy="345.13" r="2.85"/>
<circle cx="398.61" cy="343.74" r="2.85"/>
<circle cx="400.84" cy="345.39" r="2.85"/>
<circle cx="401.70" cy="346.13" r="2.85"/>
<circle cx="402.93" cy="345.97" r="2.85"/>
<circle cx="404.68" cy="344.25" r="2.85"/>
<circle cx="405.40" cy="344.47" r="2.85"/>
<circle cx="406.72" cy="345.23" r="2.85"/>
<circle cx="408.08" cy="344.79" r="2.85"/>
<circle cx="409.28" cy="346.07" r="2.85"/>
<circle cx="410.85" cy="344.89" r="2.85"/>
<circle cx="412.42" cy="346.06" r="2.85"/>
<circle cx="413.58" cy="346.09" r="2.85"/>
<circle cx="415.00" cy="345.09" r="2.85"/>
<circle cx="416.36" cy="343.75" r="2.85"/>
<circle cx="417.60" cy="344.18" r="2.85"/>
<circle cx="418.47" cy="345.78" r="2.85"/>
<circle cx="419.99" cy="344.93" r="2.85"/>
<circle cx="421.91" cy="345.15" r="2.85"/>
<circle cx="422.82" cy="345.05" r="2.85"/>
<circle cx="424.39" cy="345.74" r="2.85"/>
<circle cx="425.24" cy="345.16" r="2.85"/>
<circle cx="426.74" cy="344.42" r="2.85"/>
<circle cx="428.62" cy="345.02" r="2.85"/>
<circle cx="429.73" cy="345.68" r="2.85"/>
<circle cx="431.44" cy="344.86" r="2.85"/>
<circle cx="432.46" cy="345.02" r="2.85"/>
<circle cx="433.68" cy="345.50" r="2.85"/>
<circle cx="434.95" cy="345.09" r="2.85"/>
<circle cx="436.31" cy="346.15" r="2.85"/>
<circle cx="437.88" cy="345.98" r="2.85"/>
<circle cx="439.47" cy="344.38" r="2.85"/>
<circle cx="440.39" cy="346.16" r="2.85"/>
<circle cx="442.03" cy="344.06" r="2.85"/>
<circle cx="442.60" cy="344.85" r="2.85"/>
<circle cx="443.88" cy="344.33" r="2.85"/>
<circle cx="445.21" cy="345.44" r="2.85"/>
<circle cx="447.30" cy="346.04" r="2.85"/>
<circle cx="447.97" cy="345.56" r="2.85"/>
<circle cx="449.84" cy="344.08" r="2.85"/>
<circle cx="451.41" cy="346.22" r="2.85"/>
<circle cx="452.03" cy="346.18" r="2.85"/>
<circle cx="453.56" cy="344.97" r="2.85"/>
<circle cx="455.52" cy="345.87" r="2.85"/>
<circle cx="455.97" cy="344.83" r="2.85"/>
<circle cx="457.68" cy="344.59" r="2.85"/>
<circle cx="458.68" cy="344.53" r="2.85"/>
<circle cx="460.57" cy="343.76" r="2.85"/>
<circle cx="461.72" cy="344.85" r="2.85"/>
<circle cx="462.48" cy="344.57" r="2.85"/>
<circle cx="464.47" cy="345.04" r="2.85"/>
<circle cx="470.30" cy="343.96" r="2.85"/>
<circle cx="474.00" cy="346.17" r="2.85"/>
<circle cx="477.50" cy="345.69" r="2.85"/>
<circle cx="481.00" cy="346.14" r="2.85"/>
<circle cx="488.60" cy="344.06" r="2.85"/>
<circle cx="526.60" cy="344.44" r="2.85"/>
<circle cx="531.70" cy="343.90" r="2.85"/>
<circle cx="347.00" cy="379.05" r="2.85"/>
<circle cx="348.00" cy="377.83" r="2.85"/>
<circle cx="354.80" cy="377.49" r="2.85"/>
<circle cx="364.10" cy="378.19" r="2.85"/>
<circle cx="365.00" cy="379.37" r="2.85"/>
<circle cx="367.20" cy="379.14" r="2.85"/>
<circle cx="511.40" cy="377.80" r="2.85"/>
<circle cx="537.00" cy="377.54" r="2.85"/>
<circle cx="372.03" cy="378.56" r="2.85"/>
<circle cx="373.04" cy="377.31" r="2.85"/>
<circle cx="373.64" cy="378.87" r="2.85"/>
<circle cx="375.23" cy="377.27" r="2.85"/>
<circle cx="376.96" cy="378.73" r="2.85"/>
<circle cx="378.06" cy="377.30" r="2.85"/>
<circle cx="379.34" cy="377.25" r="2.85"/>
<circle cx="380.57" cy="378.26" r="2.85"/>
<circle cx="381.29" cy="378.52" r="2.85"/>
<circle cx="383.10" cy="377.78" r="2.85"/>
<circle cx="383.54" cy="378.45" r="2.85"/>
<circle cx="384.88" cy="377.37" r="2.85"/>
<circle cx="386.03" cy="377.21" r="2.85"/>
<circle cx="387.30" cy="377.89" r="2.85"/>
<circle cx="388.63" cy="379.05" r="2.85"/>
<circle cx="389.85" cy="378.38" r="2.85"/>
<circle cx="390.97" cy="377.98" r="2.85"/>
<circle cx="392.04" cy="377.73" r="2.85"/>
<circle cx="393.26" cy="378.99" r="2.85"/>
<circle cx="395.02" cy="377.57" r="2.85"/>
<circle cx="396.17" cy="379.51" r="2.85"/>
<circle cx="397.04" cy="379.21" r="2.85"/>
<circle cx="398.59" cy="378.37" r="2.85"/>
<circle cx="400.21" cy="378.10" r="2.85"/>
<circle cx="401.12" cy="378.87" r="2.85"/>
<circle cx="402.82" cy="377.97" r="2.85"/>
<circle cx="403.90" cy="378.92" r="2.85"/>
<circle cx="404.93" cy="378.13" r="2.85"/>
<circle cx="405.88" cy="377.22" r="2.85"/>
<circle cx="406.90" cy="377.27" r="2.85"/>
<circle cx="408.73" cy="377.75" r="2.85"/>
<circle cx="409.39" cy="377.30" r="2.85"/>
<circle cx="411.28" cy="379.34" r="2.85"/>
<circle cx="412.34" cy="377.81" r="2.85"/>
<circle cx="413.15" cy="377.84" r="2.85"/>
<circle cx="414.60" cy="377.49" r="2.85"/>
<circle cx="415.81" cy="377.77" r="2.85"/>
<circle cx="417.54" cy="379.61" r="2.85"/>
<circle cx="418.37" cy="377.72" r="2.85"/>
<circle cx="420.01" cy="377.89" r="2.85"/>
<circle cx="420.64" cy="377.08" r="2.85"/>
<circle cx="421.89" cy="378.31" r="2.85"/>
<circle cx="423.24" cy="377.60" r="2.85"/>
<circle cx="424.48" cy="377.09" r="2.85"/>
<circle cx="425.47" cy="377.31" r="2.85"/>
<circle cx="426.83" cy="377.19" r="2.85"/>
<circle cx="427.69" cy="377.87" r="2.85"/>
<circle cx="429.12" cy="378.60" r="2.85"/>
<circle cx="431.02" cy="379.03" r="2.85"/>
<circle cx="433.16" cy="378.94" r="2.85"/>
<circle cx="435.45" cy="378.09" r="2.85"/>
<circle cx="436.54" cy="379.64" r="2.85"/>
<circle cx="438.21" cy="378.96" r="2.85"/>
<circle cx="440.91" cy="377.20" r="2.85"/>
<circle cx="443.16" cy="379.40" r="2.85"/>
<circle cx="444.78" cy="378.99" r="2.85"/>
<circle cx="447.02" cy="377.44" r="2.85"/>
<circle cx="448.51" cy="378.39" r="2.85"/>
<circle cx="450.94" cy="379.17" r="2.85"/>
<circle cx="452.87" cy="378.60" r="2.85"/>
<circle cx="454.92" cy="378.85" r="2.85"/>
<circle cx="456.55" cy="377.68" r="2.85"/>
<circle cx="457.47" cy="377.43" r="2.85"/>
<circle cx="459.92" cy="377.35" r="2.85"/>
<circle cx="462.60" cy="378.53" r="2.85"/>
<circle cx="464.23" cy="378.71" r="2.85"/>
<circle cx="466.25" cy="378.35" r="2.85"/>
<circle cx="467.14" cy="379.15" r="2.85"/>
<circle cx="470.24" cy="378.39" r="2.85"/>
<circle cx="471.86" cy="378.79" r="2.85"/>
<circle cx="473.07" cy="378.99" r="2.85"/>
<circle cx="475.31" cy="377.27" r="2.85"/>
<circle cx="477.27" cy="378.98" r="2.85"/>
<circle cx="479.13" cy="379.00" r="2.85"/>
<circle cx="482.27" cy="378.36" r="2.85"/>
<circle cx="483.29" cy="378.33" r="2.85"/>
<circle cx="485.71" cy="379.07" r="2.85"/>
<circle cx="487.54" cy="378.75" r="2.85"/>
<circle cx="488.65" cy="377.46" r="2.85"/>
<circle cx="490.87" cy="379.01" r="2.85"/>
<circle cx="492.89" cy="378.56" r="2.85"/>
<circle cx="494.38" cy="377.24" r="2.85"/>
<circle cx="496.73" cy="378.83" r="2.85"/>
<circle cx="499.33" cy="378.84" r="2.85"/>
<circle cx="367.20" cy="411.26" r="2.85"/>
<circle cx="371.10" cy="411.80" r="2.85"/>
<circle cx="376.50" cy="411.67" r="2.85"/>
<circle cx="377.50" cy="411.68" r="2.85"/>
<circle cx="379.60" cy="410.84" r="2.85"/>
<circle cx="380.60" cy="412.70" r="2.85"/>
<circle cx="382.70" cy="411.04" r="2.85"/>
<circle cx="508.30" cy="412.90" r="2.85"/>
<circle cx="513.70" cy="412.80" r="2.85"/>
<circle cx="515.30" cy="410.60" r="2.85"/>
<circle cx="520.70" cy="411.66" r="2.85"/>
<circle cx="387.52" cy="412.97" r="2.85"/>
<circle cx="388.00" cy="411.16" r="2.85"/>
<circle cx="388.56" cy="412.91" r="2.85"/>
<circle cx="389.25" cy="411.97" r="2.85"/>
<circle cx="389.90" cy="411.82" r="2.85"/>
<circle cx="391.04" cy="410.80" r="2.85"/>
<circle cx="391.65" cy="411.78" r="2.85"/>
<circle cx="392.37" cy="412.28" r="2.85"/>
<circle cx="392.70" cy="412.79" r="2.85"/>
<circle cx="393.53" cy="410.52" r="2.85"/>
<circle cx="393.95" cy="411.74" r="2.85"/>
<circle cx="394.89" cy="411.24" r="2.85"/>
<circle cx="395.41" cy="411.35" r="2.85"/>
<circle cx="396.19" cy="412.64" r="2.85"/>
<circle cx="396.71" cy="412.41" r="2.85"/>
<circle cx="397.86" cy="410.77" r="2.85"/>
<circle cx="398.59" cy="412.31" r="2.85"/>
<circle cx="399.26" cy="411.21" r="2.85"/>
<circle cx="399.66" cy="411.48" r="2.85"/>
<circle cx="400.70" cy="411.99" r="2.85"/>
<circle cx="401.03" cy="411.57" r="2.85"/>
<circle cx="401.68" cy="410.58" r="2.85"/>
<circle cx="402.27" cy="412.63" r="2.85"/>
<circle cx="403.06" cy="412.89" r="2.85"/>
<circle cx="403.72" cy="411.15" r="2.85"/>
<circle cx="404.55" cy="410.95" r="2.85"/>
<circle cx="405.17" cy="412.94" r="2.85"/>
<circle cx="406.14" cy="412.57" r="2.85"/>
<circle cx="406.69" cy="412.83" r="2.85"/>
<circle cx="407.55" cy="411.88" r="2.85"/>
<circle cx="408.12" cy="410.58" r="2.85"/>
<circle cx="408.80" cy="411.63" r="2.85"/>
<circle cx="409.51" cy="412.13" r="2.85"/>
<circle cx="409.94" cy="410.58" r="2.85"/>
<circle cx="410.98" cy="410.79" r="2.85"/>
<circle cx="411.42" cy="411.35" r="2.85"/>
<circle cx="412.01" cy="412.38" r="2.85"/>
<circle cx="413.07" cy="411.13" r="2.85"/>
<circle cx="413.58" cy="411.24" r="2.85"/>
<circle cx="414.22" cy="411.48" r="2.85"/>
<circle cx="414.69" cy="410.87" r="2.85"/>
<circle cx="415.40" cy="412.81" r="2.85"/>
<circle cx="416.25" cy="411.03" r="2.85"/>
<circle cx="417.16" cy="413.05" r="2.85"/>
<circle cx="417.60" cy="410.82" r="2.85"/>
<circle cx="418.14" cy="410.69" r="2.85"/>
<circle cx="418.92" cy="410.69" r="2.85"/>
<circle cx="419.55" cy="411.13" r="2.85"/>
<circle cx="420.42" cy="412.76" r="2.85"/>
<circle cx="421.20" cy="411.53" r="2.85"/>
<circle cx="421.71" cy="411.82" r="2.85"/>
<circle cx="422.38" cy="411.34" r="2.85"/>
<circle cx="422.89" cy="411.18" r="2.85"/>
<circle cx="424.08" cy="410.78" r="2.85"/>
<circle cx="424.51" cy="412.09" r="2.85"/>
<circle cx="425.40" cy="411.02" r="2.85"/>
<circle cx="425.76" cy="411.10" r="2.85"/>
<circle cx="426.52" cy="411.62" r="2.85"/>
<circle cx="427.51" cy="412.66" r="2.85"/>
<circle cx="428.16" cy="410.51" r="2.85"/>
<circle cx="428.38" cy="412.30" r="2.85"/>
<circle cx="429.54" cy="411.69" r="2.85"/>
<circle cx="430.06" cy="410.46" r="2.85"/>
<circle cx="430.64" cy="412.86" r="2.85"/>
<circle cx="431.57" cy="412.68" r="2.85"/>
<circle cx="432.34" cy="411.10" r="2.85"/>
<circle cx="432.55" cy="410.86" r="2.85"/>
<circle cx="433.47" cy="412.23" r="2.85"/>
<circle cx="434.38" cy="412.33" r="2.85"/>
<circle cx="434.91" cy="412.44" r="2.85"/>
<circle cx="435.50" cy="411.89" r="2.85"/>
<circle cx="435.95" cy="412.49" r="2.85"/>
<circle cx="436.75" cy="412.85" r="2.85"/>
<circle cx="437.66" cy="411.25" r="2.85"/>
<circle cx="438.07" cy="411.11" r="2.85"/>
<circle cx="439.04" cy="412.27" r="2.85"/>
<circle cx="439.44" cy="410.64" r="2.85"/>
<circle cx="440.35" cy="411.97" r="2.85"/>
<circle cx="440.96" cy="411.04" r="2.85"/>
<circle cx="441.77" cy="410.48" r="2.85"/>
<circle cx="442.29" cy="411.65" r="2.85"/>
<circle cx="443.34" cy="412.13" r="2.85"/>
<circle cx="443.99" cy="411.69" r="2.85"/>
<circle cx="444.32" cy="411.10" r="2.85"/>
<circle cx="445.41" cy="412.29" r="2.85"/>
<circle cx="445.74" cy="410.51" r="2.85"/>
<circle cx="446.53" cy="412.21" r="2.85"/>
<circle cx="447.18" cy="411.13" r="2.85"/>
<circle cx="448.00" cy="412.86" r="2.85"/>
<circle cx="448.44" cy="410.54" r="2.85"/>
<circle cx="449.20" cy="411.55" r="2.85"/>
<circle cx="450.08" cy="410.97" r="2.85"/>
<circle cx="450.82" cy="412.38" r="2.85"/>
<circle cx="451.35" cy="410.99" r="2.85"/>
<circle cx="452.29" cy="411.27" r="2.85"/>
<circle cx="452.91" cy="411.06" r="2.85"/>
<circle cx="453.26" cy="412.43" r="2.85"/>
<circle cx="453.99" cy="412.93" r="2.85"/>
<circle cx="454.79" cy="410.94" r="2.85"/>
<circle cx="455.33" cy="411.54" r="2.85"/>
<circle cx="456.26" cy="412.92" r="2.85"/>
<circle cx="456.66" cy="411.48" r="2.85"/>
<circle cx="457.39" cy="412.99" r="2.85"/>
<circle cx="458.04" cy="410.59" r="2.85"/>
<circle cx="458.68" cy="411.48" r="2.85"/>
<circle cx="459.83" cy="412.75" r="2.85"/>
<circle cx="460.43" cy="413.05" r="2.85"/>
<circle cx="461.22" cy="411.31" r="2.85"/>
<circle cx="461.50" cy="412.89" r="2.85"/>
<circle cx="462.50" cy="410.54" r="2.85"/>
<circle cx="463.14" cy="411.44" r="2.85"/>
<circle cx="463.67" cy="411.32" r="2.85"/>
<circle cx="464.24" cy="410.46" r="2.85"/>
<circle cx="465.00" cy="411.37" r="2.85"/>
<circle cx="466.05" cy="410.78" r="2.85"/>
<circle cx="466.75" cy="411.00" r="2.85"/>
<circle cx="467.10" cy="412.59" r="2.85"/>
<circle cx="468.04" cy="411.58" r="2.85"/>
<circle cx="468.31" cy="411.69" r="2.85"/>
<circle cx="469.18" cy="412.85" r="2.85"/>
<circle cx="469.77" cy="411.40" r="2.85"/>
<circle cx="470.84" cy="410.53" r="2.85"/>
<circle cx="471.26" cy="412.57" r="2.85"/>
<circle cx="472.14" cy="410.56" r="2.85"/>
<circle cx="472.43" cy="410.62" r="2.85"/>
<circle cx="473.60" cy="411.13" r="2.85"/>
<circle cx="474.20" cy="412.79" r="2.85"/>
<circle cx="474.66" cy="411.17" r="2.85"/>
<circle cx="475.69" cy="412.06" r="2.85"/>
<circle cx="475.99" cy="412.32" r="2.85"/>
<circle cx="476.71" cy="411.17" r="2.85"/>
<circle cx="477.23" cy="412.42" r="2.85"/>
<circle cx="478.42" cy="412.10" r="2.85"/>
<circle cx="479.13" cy="410.52" r="2.85"/>
<circle cx="479.42" cy="411.69" r="2.85"/>
<circle cx="480.50" cy="412.94" r="2.85"/>
<circle cx="480.88" cy="411.11" r="2.85"/>
<circle cx="481.60" cy="411.74" r="2.85"/>
<circle cx="482.56" cy="410.93" r="2.85"/>
<circle cx="483.17" cy="412.38" r="2.85"/>
<circle cx="483.88" cy="412.47" r="2.85"/>
<circle cx="484.45" cy="411.31" r="2.85"/>
<circle cx="484.97" cy="411.40" r="2.85"/>
<circle cx="485.92" cy="410.66" r="2.85"/>
<circle cx="486.28" cy="412.41" r="2.85"/>
<circle cx="487.00" cy="410.62" r="2.85"/>
<circle cx="487.57" cy="411.89" r="2.85"/>
<circle cx="488.42" cy="413.00" r="2.85"/>
<circle cx="489.41" cy="413.02" r="2.85"/>
<circle cx="489.76" cy="410.67" r="2.85"/>
<circle cx="490.36" cy="411.75" r="2.85"/>
<circle cx="491.38" cy="411.62" r="2.85"/>
<circle cx="491.81" cy="411.54" r="2.85"/>
<circle cx="492.71" cy="412.21" r="2.85"/>
<circle cx="493.47" cy="412.66" r="2.85"/>
<circle cx="494.11" cy="410.77" r="2.85"/>
<circle cx="494.90" cy="411.22" r="2.85"/>
<circle cx="495.43" cy="411.43" r="2.85"/>
<circle cx="496.22" cy="410.98" r="2.85"/>
<circle cx="496.63" cy="411.10" r="2.85"/>
<circle cx="497.27" cy="412.75" r="2.85"/>
<circle cx="498.20" cy="411.31" r="2.85"/>
<circle cx="498.78" cy="413.04" r="2.85"/>
<circle cx="499.53" cy="411.06" r="2.85"/>
<circle cx="500.38" cy="412.15" r="2.85"/>
<circle cx="501.17" cy="410.72" r="2.85"/>
<circle cx="501.58" cy="412.59" r="2.85"/>
<circle cx="502.47" cy="412.83" r="2.85"/>
<circle cx="502.71" cy="411.22" r="2.85"/>
<circle cx="503.45" cy="410.95" r="2.85"/>
<circle cx="371.40" cy="445.10" r="2.85"/>
<circle cx="385.80" cy="445.10" r="2.85"/>
<circle cx="395.10" cy="446.20" r="2.85"/>
<circle cx="395.80" cy="445.50" r="2.85"/>
<circle cx="403.30" cy="443.50" r="2.85"/>
<circle cx="406.70" cy="445.10" r="2.85"/>
<circle cx="407.50" cy="445.60" r="2.85"/>
<circle cx="410.60" cy="446.60" r="2.85"/>
<circle cx="424.60" cy="447.70" r="2.85"/>
<circle cx="427.70" cy="446.60" r="2.85"/>
<circle cx="430.80" cy="445.50" r="2.85"/>
<circle cx="433.10" cy="445.10" r="2.85"/>
<circle cx="450.90" cy="446.60" r="2.85"/>
<circle cx="453.30" cy="443.50" r="2.85"/>
<circle cx="457.90" cy="446.20" r="2.85"/>
<circle cx="462.60" cy="445.50" r="2.85"/>
<circle cx="463.00" cy="446.00" r="2.85"/>
<circle cx="471.10" cy="443.50" r="2.85"/>
<circle cx="474.20" cy="444.00" r="2.85"/>
<circle cx="477.30" cy="445.10" r="2.85"/>
<circle cx="490.50" cy="447.70" r="2.85"/>
<circle cx="499.80" cy="446.20" r="2.85"/>
<circle cx="520.20" cy="445.10" r="2.85"/>
<circle cx="530.00" cy="444.30" r="2.85"/>
<circle cx="531.00" cy="445.50" r="2.85"/>
<circle cx="413.70" cy="479.60" r="2.85"/>
<circle cx="419.10" cy="478.40" r="2.85"/>
<circle cx="450.90" cy="478.40" r="2.85"/>
<circle cx="484.30" cy="479.60" r="2.85"/>
</g>
<path d="M341.90 321.47L344.05 322.86L346.20 324.23L348.34 325.60L350.49 326.96L352.64 328.30L354.79 329.64L356.94 330.97L359.08 332.29L361.23 333.60L363.38 334.90L365.53 336.19L367.67 337.46L369.82 338.73L371.97 339.99L374.12 341.24L376.27 342.48L378.41 343.71L380.56 344.92L382.70 346.13L384.86 347.32L387.00 348.51L389.15 349.68L391.30 350.83L393.45 351.98L395.60 353.11L397.74 354.23L399.89 355.33L402.04 356.42L404.19 357.48L406.33 358.53L408.48 359.57L410.63 360.58L412.77 361.57L414.93 362.54L417.07 363.48L419.22 364.40L421.37 365.28L423.51 366.14L425.67 366.98L427.81 367.78L429.96 368.54L432.10 369.28L434.26 369.99L436.40 370.67L438.55 371.33L440.70 371.96L442.84 372.56L445.00 373.14L447.14 373.70L449.29 374.25L451.44 374.78L453.58 375.29L455.73 375.79L457.88 376.28L460.03 376.76L462.17 377.23L464.33 377.69L466.47 378.15L468.62 378.59L470.77 379.03L472.91 379.47L475.07 379.90L477.21 380.32L479.36 380.74L481.50 381.16L483.65 381.57L485.80 381.98L487.95 382.39L490.10 382.79L492.24 383.19L494.39 383.59L496.54 383.98L498.69 384.37L500.83 384.76L502.98 385.15L505.13 385.54L507.28 385.92L509.43 386.30L511.57 386.68L513.72 387.06L515.87 387.44L518.02 387.81L520.17 388.19L522.31 388.56L524.46 388.93L526.61 389.30L528.76 389.66L530.90 390.03L533.05 390.40L535.20 390.76L535.20 419.41L533.05 418.62L530.90 417.83L528.76 417.03L526.61 416.23L524.46 415.42L522.31 414.61L520.17 413.80L518.02 412.98L515.87 412.15L513.72 411.32L511.57 410.49L509.43 409.65L507.28 408.81L505.13 407.96L502.98 407.11L500.83 406.26L498.69 405.39L496.54 404.53L494.39 403.66L492.24 402.79L490.10 401.91L487.95 401.03L485.80 400.15L483.65 399.26L481.50 398.37L479.36 397.48L477.21 396.58L475.07 395.69L472.91 394.79L470.77 393.88L468.62 392.98L466.47 392.08L464.33 391.17L462.17 390.27L460.03 389.37L457.88 388.47L455.73 387.57L453.58 386.68L451.44 385.79L449.29 384.92L447.14 384.04L445.00 383.19L442.84 382.34L440.70 381.50L438.55 380.69L436.40 379.89L434.26 379.11L432.10 378.35L429.96 377.61L427.81 376.90L425.67 376.21L423.51 375.54L421.37 374.89L419.22 374.27L417.07 373.66L414.93 373.07L412.77 372.50L410.63 371.95L408.48 371.40L406.33 370.87L404.19 370.35L402.04 369.84L399.89 369.34L397.74 368.84L395.60 368.35L393.45 367.87L391.30 367.39L389.15 366.92L387.00 366.45L384.86 365.98L382.70 365.52L380.56 365.06L378.41 364.60L376.27 364.15L374.12 363.69L371.97 363.24L369.82 362.78L367.67 362.33L365.53 361.88L363.38 361.44L361.23 360.98L359.08 360.54L356.94 360.09L354.79 359.64L352.64 359.20L350.49 358.75L348.34 358.30L346.20 357.85L344.05 357.40L341.90 356.96Z" fill="#999999" fill-opacity="0.5"/>
<path d="M341.90 339.98L344.05 340.86L346.20 341.73L348.34 342.61L350.49 343.48L352.64 344.34L354.79 345.20L356.94 346.06L359.08 346.92L361.23 347.76L363.38 348.61L365.53 349.46L367.67 350.29L369.82 351.13L371.97 351.96L374.12 352.79L376.27 353.62L378.41 354.44L380.56 355.26L382.70 356.07L384.86 356.88L387.00 357.69L389.15 358.49L391.30 359.30L393.45 360.09L395.60 360.89L397.74 361.68L399.89 362.47L402.04 363.25L404.19 364.03L406.33 364.81L408.48 365.58L410.63 366.35L412.77 367.12L414.93 367.88L417.07 368.64L419.22 369.40L421.37 370.15L423.51 370.90L425.67 371.65L427.81 372.40L429.96 373.14L432.10 373.88L434.26 374.61L436.40 375.34L438.55 376.07L440.70 376.80L442.84 377.52L445.00 378.24L447.14 378.95L449.29 379.67L451.44 380.38L453.58 381.08L455.73 381.79L457.88 382.49L460.03 383.19L462.17 383.88L464.33 384.57L466.47 385.27L468.62 385.95L470.77 386.63L472.91 387.31L475.07 387.99L477.21 388.67L479.36 389.34L481.50 390.00L483.65 390.67L485.80 391.33L487.95 391.99L490.10 392.65L492.24 393.31L494.39 393.96L496.54 394.60L498.69 395.25L500.83 395.90L502.98 396.54L505.13 397.17L507.28 397.81L509.43 398.44L511.57 399.07L513.72 399.70L515.87 400.32L518.02 400.94L520.17 401.56L522.31 402.18L524.46 402.79L526.61 403.40L528.76 404.01L530.90 404.62L533.05 405.22L535.20 405.82" stroke="#FF0000" stroke-width="3.6" fill="none" stroke-linejoin="round"/>
</g>
<rect x="323.26" y="3.80" width="226.64" height="45.90" fill="none" stroke="#333333" stroke-width="1.35"/>
<rect x="323.26" y="49.70" width="226.64" height="521.15" fill="none" stroke="#333333" stroke-width="1.35"/>
<svg x="323.26" y="3.80" width="226.64" height="45.90" overflow="hidden"><text x="110.72" y="36.80" font-size="35" letter-spacing="0.0" fill="#1A1A1A" text-anchor="middle">Sinitic</text></svg>
<path d="M348.60 603.50L346.01 603.50L346.01 586.48Q345.07 587.40 343.54 588.32Q342.02 589.24 340.79 589.70L340.79 587.12Q342.97 586.07 344.60 584.57Q346.22 583.07 346.90 581.66L348.60 581.66Z" fill="#1A1A1A"/>
<text transform="translate(416.18 603.5) scale(1 1.075)" font-size="29.5" fill="#1A1A1A" text-anchor="middle">2</text>
<text transform="translate(486.55 603.5) scale(1 1.075)" font-size="29.5" fill="#1A1A1A" text-anchor="middle">3</text>
<path d="M354.81 570.85V575.65M425.18 570.85V575.65M495.55 570.85V575.65" stroke="#333333" stroke-width="1.4"/>
<rect x="559.10" y="3.80" width="226.76" height="45.90" fill="#D9D9D9"/>
<rect x="560.60" y="5.30" width="223.76" height="42.90" fill="none" stroke="#E6E6E6" stroke-width="1"/>
<rect x="559.10" y="49.70" width="226.76" height="521.15" fill="#fff"/>
<path d="M591.69 49.70V570.85M626.86 49.70V570.85M662.03 49.70V570.85M697.20 49.70V570.85M732.37 49.70V570.85M767.54 49.70V570.85M559.10 545.26H785.86M559.10 461.82H785.86M559.10 378.38H785.86M559.10 294.94H785.86M559.10 211.50H785.86M559.10 128.06H785.86" stroke="#EBEBEB" stroke-width="1.6" fill="none"/>
<rect x="560.70" y="51.30" width="223.56" height="517.95" fill="none" stroke="#fff" stroke-width="1.6"/>
<g clip-path="url(#c2)">
<clipPath id="c2"><rect x="559.10" y="49.70" width="226.76" height="521.15"/></clipPath>
<g fill="#000" fill-opacity="0.3" stroke="#000" stroke-opacity="0.5" stroke-width="1.5">
<circle cx="624.00" cy="245.80" r="2.85"/>
<circle cx="627.90" cy="278.20" r="2.85"/>
<circle cx="640.70" cy="279.50" r="2.85"/>
<circle cx="651.20" cy="277.80" r="2.85"/>
<circle cx="592.60" cy="311.60" r="2.85"/>
<circle cx="595.40" cy="311.60" r="2.85"/>
<circle cx="598.40" cy="311.60" r="2.85"/>
<circle cx="619.00" cy="312.90" r="2.85"/>
<circle cx="639.70" cy="312.90" r="2.85"/>
<circle cx="664.80" cy="312.90" r="2.85"/>
<circle cx="668.50" cy="313.10" r="2.85"/>
<circle cx="671.80" cy="311.60" r="2.85"/>
<circle cx="683.10" cy="312.90" r="2.85"/>
<circle cx="687.20" cy="310.30" r="2.85"/>
<circle cx="591.90" cy="343.30" r="2.85"/>
<circle cx="601.20" cy="343.30" r="2.85"/>
<circle cx="617.50" cy="346.10" r="2.85"/>
<circle cx="620.80" cy="345.00" r="2.85"/>
<circle cx="621.80" cy="345.50" r="2.85"/>
<circle cx="630.50" cy="346.10" r="2.85"/>
<circle cx="636.00" cy="344.60" r="2.85"/>
<circle cx="652.20" cy="343.30" r="2.85"/>
<circle cx="657.70" cy="347.20" r="2.85"/>
<circle cx="658.80" cy="346.10" r="2.85"/>
<circle cx="663.10" cy="345.00" r="2.85"/>
<circle cx="667.40" cy="344.60" r="2.85"/>
<circle cx="674.00" cy="346.10" r="2.85"/>
<circle cx="682.00" cy="344.60" r="2.85"/>
<circle cx="687.00" cy="346.10" r="2.85"/>
<circle cx="689.80" cy="344.60" r="2.85"/>
<circle cx="694.10" cy="346.10" r="2.85"/>
<circle cx="721.40" cy="344.60" r="2.85"/>
<circle cx="734.10" cy="345.70" r="2.85"/>
<circle cx="750.80" cy="344.60" r="2.85"/>
<circle cx="604.50" cy="378.40" r="2.85"/>
<circle cx="618.60" cy="377.40" r="2.85"/>
<circle cx="623.00" cy="379.10" r="2.85"/>
<circle cx="632.70" cy="378.40" r="2.85"/>
<circle cx="640.30" cy="377.40" r="2.85"/>
<circle cx="642.50" cy="376.30" r="2.85"/>
<circle cx="644.70" cy="379.50" r="2.85"/>
<circle cx="647.90" cy="376.30" r="2.85"/>
<circle cx="652.20" cy="379.50" r="2.85"/>
<circle cx="666.40" cy="379.50" r="2.85"/>
<circle cx="674.00" cy="378.40" r="2.85"/>
<circle cx="679.40" cy="378.40" r="2.85"/>
<circle cx="683.30" cy="378.40" r="2.85"/>
<circle cx="703.60" cy="379.30" r="2.85"/>
<circle cx="724.10" cy="378.20" r="2.85"/>
<circle cx="574.10" cy="414.30" r="2.85"/>
<circle cx="594.30" cy="412.70" r="2.85"/>
<circle cx="600.20" cy="412.70" r="2.85"/>
<circle cx="601.90" cy="411.70" r="2.85"/>
<circle cx="611.00" cy="412.70" r="2.85"/>
<circle cx="616.90" cy="412.70" r="2.85"/>
<circle cx="618.60" cy="412.10" r="2.85"/>
<circle cx="621.90" cy="411.70" r="2.85"/>
<circle cx="627.70" cy="411.00" r="2.85"/>
<circle cx="628.50" cy="412.00" r="2.85"/>
<circle cx="629.50" cy="411.70" r="2.85"/>
<circle cx="638.10" cy="411.70" r="2.85"/>
<circle cx="648.60" cy="412.10" r="2.85"/>
<circle cx="649.40" cy="412.70" r="2.85"/>
<circle cx="658.80" cy="412.70" r="2.85"/>
<circle cx="662.00" cy="412.10" r="2.85"/>
<circle cx="668.50" cy="411.00" r="2.85"/>
<circle cx="675.00" cy="410.40" r="2.85"/>
<circle cx="684.60" cy="413.00" r="2.85"/>
<circle cx="686.00" cy="412.50" r="2.85"/>
<circle cx="687.40" cy="413.00" r="2.85"/>
<circle cx="690.20" cy="413.00" r="2.85"/>
<circle cx="700.10" cy="411.30" r="2.85"/>
<circle cx="708.80" cy="413.00" r="2.85"/>
<circle cx="709.80" cy="413.00" r="2.85"/>
<circle cx="715.30" cy="413.00" r="2.85"/>
<circle cx="725.20" cy="411.30" r="2.85"/>
<circle cx="732.10" cy="413.90" r="2.85"/>
<circle cx="746.00" cy="413.00" r="2.85"/>
<circle cx="773.00" cy="410.20" r="2.85"/>
<circle cx="612.50" cy="445.10" r="2.85"/>
<circle cx="621.90" cy="446.40" r="2.85"/>
<circle cx="627.90" cy="443.60" r="2.85"/>
<circle cx="648.30" cy="446.40" r="2.85"/>
<circle cx="660.90" cy="444.70" r="2.85"/>
<circle cx="667.90" cy="444.70" r="2.85"/>
<circle cx="644.70" cy="477.10" r="2.85"/>
<circle cx="680.60" cy="479.60" r="2.85"/>
<circle cx="711.30" cy="477.10" r="2.85"/>
<circle cx="644.70" cy="545.00" r="2.85"/>
<circle cx="658.90" cy="546.70" r="2.85"/>
<circle cx="669.10" cy="545.00" r="2.85"/>
<circle cx="678.00" cy="546.70" r="2.85"/>
<circle cx="681.80" cy="545.00" r="2.85"/>
<circle cx="684.00" cy="545.00" r="2.85"/>
<circle cx="689.10" cy="545.00" r="2.85"/>
<circle cx="690.20" cy="545.50" r="2.85"/>
<circle cx="691.30" cy="545.30" r="2.85"/>
<circle cx="692.50" cy="545.30" r="2.85"/>
<circle cx="697.60" cy="545.00" r="2.85"/>
<circle cx="703.60" cy="546.70" r="2.85"/>
<circle cx="706.20" cy="545.00" r="2.85"/>
<circle cx="708.70" cy="545.00" r="2.85"/>
<circle cx="713.80" cy="543.60" r="2.85"/>
<circle cx="720.30" cy="543.60" r="2.85"/>
<circle cx="727.00" cy="546.70" r="2.85"/>
<circle cx="743.50" cy="545.00" r="2.85"/>
</g>
<path d="M572.40 293.42L574.64 297.07L576.88 300.66L579.11 304.20L581.36 307.68L583.59 311.11L585.83 314.50L588.07 317.83L590.31 321.11L592.55 324.34L594.79 327.52L597.03 330.65L599.27 333.73L601.50 336.76L603.75 339.74L605.98 342.67L608.22 345.55L610.46 348.38L612.70 351.17L614.94 353.90L617.18 356.58L619.42 359.21L621.65 361.78L623.89 364.31L626.14 366.78L628.37 369.19L630.61 371.55L632.85 373.85L635.09 376.09L637.33 378.27L639.56 380.40L641.81 382.45L644.04 384.45L646.28 386.38L648.52 388.24L650.76 390.03L653.00 391.76L655.24 393.43L657.48 395.03L659.72 396.56L661.95 398.04L664.20 399.46L666.43 400.82L668.67 402.13L670.91 403.40L673.15 404.62L675.39 405.80L677.62 406.94L679.87 408.05L682.11 409.13L684.34 410.17L686.59 411.20L688.82 412.20L691.06 413.18L693.30 414.14L695.54 415.08L697.78 416.01L700.01 416.92L702.26 417.82L704.49 418.70L706.73 419.58L708.97 420.44L711.21 421.29L713.45 422.13L715.69 422.97L717.93 423.79L720.17 424.61L722.40 425.42L724.65 426.23L726.88 427.02L729.12 427.81L731.36 428.60L733.60 429.38L735.84 430.15L738.07 430.92L740.32 431.68L742.56 432.44L744.79 433.19L747.04 433.94L749.27 434.68L751.51 435.42L753.75 436.15L755.99 436.88L758.23 437.61L760.46 438.33L762.71 439.05L764.94 439.76L767.18 440.47L769.43 441.18L771.66 441.88L773.90 442.58L773.90 485.46L771.66 484.48L769.43 483.49L767.18 482.48L764.94 481.45L762.71 480.41L760.46 479.36L758.23 478.29L755.99 477.20L753.75 476.10L751.51 474.98L749.27 473.85L747.04 472.70L744.79 471.53L742.56 470.35L740.32 469.15L738.07 467.93L735.84 466.70L733.60 465.45L731.36 464.19L729.12 462.90L726.88 461.61L724.65 460.29L722.40 458.96L720.17 457.60L717.93 456.24L715.69 454.86L713.45 453.46L711.21 452.04L708.97 450.61L706.73 449.16L704.49 447.70L702.26 446.23L700.01 444.74L697.78 443.24L695.54 441.72L693.30 440.19L691.06 438.66L688.82 437.11L686.59 435.56L684.34 434.00L682.11 432.44L679.87 430.88L677.62 429.32L675.39 427.76L673.15 426.20L670.91 424.66L668.67 423.13L666.43 421.62L664.20 420.13L661.95 418.65L659.72 417.21L657.48 415.79L655.24 414.40L653.00 413.04L650.76 411.71L648.52 410.41L646.28 409.15L644.04 407.91L641.81 406.71L639.56 405.53L637.33 404.38L635.09 403.25L632.85 402.15L630.61 401.06L628.37 399.99L626.14 398.95L623.89 397.91L621.65 396.89L619.42 395.88L617.18 394.88L614.94 393.90L612.70 392.92L610.46 391.94L608.22 390.98L605.98 390.02L603.75 389.07L601.50 388.12L599.27 387.18L597.03 386.24L594.79 385.31L592.55 384.38L590.31 383.45L588.07 382.52L585.83 381.60L583.59 380.67L581.36 379.75L579.11 378.83L576.88 377.92L574.64 377.00L572.40 376.08Z" fill="#999999" fill-opacity="0.5"/>
<path d="M572.40 338.85L574.64 340.91L576.88 342.94L579.11 344.96L581.36 346.97L583.59 348.95L585.83 350.92L588.07 352.87L590.31 354.81L592.55 356.73L594.79 358.64L597.03 360.53L599.27 362.40L601.50 364.26L603.75 366.10L605.98 367.92L608.22 369.73L610.46 371.52L612.70 373.30L614.94 375.07L617.18 376.81L619.42 378.55L621.65 380.27L623.89 381.97L626.14 383.66L628.37 385.33L630.61 386.99L632.85 388.64L635.09 390.27L637.33 391.88L639.56 393.48L641.81 395.07L644.04 396.64L646.28 398.20L648.52 399.75L650.76 401.28L653.00 402.80L655.24 404.30L657.48 405.80L659.72 407.27L661.95 408.74L664.20 410.19L666.43 411.63L668.67 413.05L670.91 414.46L673.15 415.86L675.39 417.25L677.62 418.62L679.87 419.98L682.11 421.33L684.34 422.67L686.59 423.99L688.82 425.30L691.06 426.60L693.30 427.89L695.54 429.16L697.78 430.43L700.01 431.68L702.26 432.92L704.49 434.14L706.73 435.36L708.97 436.57L711.21 437.76L713.45 438.94L715.69 440.12L717.93 441.27L720.17 442.43L722.40 443.56L724.65 444.69L726.88 445.81L729.12 446.91L731.36 448.01L733.60 449.09L735.84 450.17L738.07 451.23L740.32 452.28L742.56 453.33L744.79 454.36L747.04 455.38L749.27 456.40L751.51 457.40L753.75 458.39L755.99 459.38L758.23 460.35L760.46 461.31L762.71 462.27L764.94 463.22L767.18 464.15L769.43 465.08L771.66 466.00L773.90 466.90" stroke="#FF0000" stroke-width="3.6" fill="none" stroke-linejoin="round"/>
</g>
<rect x="559.10" y="3.80" width="226.76" height="45.90" fill="none" stroke="#333333" stroke-width="1.35"/>
<rect x="559.10" y="49.70" width="226.76" height="521.15" fill="none" stroke="#333333" stroke-width="1.35"/>
<svg x="559.10" y="3.80" width="226.76" height="45.90" overflow="hidden"><text x="113.08" y="36.80" font-size="35" letter-spacing="0.0" fill="#1A1A1A" text-anchor="middle">Tibeto-Burman</text></svg>
<path d="M585.48 603.50L582.89 603.50L582.89 586.48Q581.95 587.40 580.42 588.32Q578.90 589.24 577.67 589.70L577.67 587.12Q579.85 586.07 581.48 584.57Q583.10 583.07 583.78 581.66L585.48 581.66Z" fill="#1A1A1A"/>
<text transform="translate(653.03 603.5) scale(1 1.075)" font-size="29.5" fill="#1A1A1A" text-anchor="middle">2</text>
<text transform="translate(723.37 603.5) scale(1 1.075)" font-size="29.5" fill="#1A1A1A" text-anchor="middle">3</text>
<path d="M591.69 570.85V575.65M662.03 570.85V575.65M732.37 570.85V575.65" stroke="#333333" stroke-width="1.4"/>
<rect x="796.20" y="3.80" width="226.80" height="45.90" fill="#D9D9D9"/>
<rect x="797.70" y="5.30" width="223.80" height="42.90" fill="none" stroke="#E6E6E6" stroke-width="1"/>
<rect x="796.20" y="49.70" width="226.80" height="521.15" fill="#fff"/>
<path d="M828.40 49.70V570.85M863.50 49.70V570.85M898.60 49.70V570.85M933.70 49.70V570.85M968.80 49.70V570.85M1003.90 49.70V570.85M796.20 545.26H1023.00M796.20 461.82H1023.00M796.20 378.38H1023.00M796.20 294.94H1023.00M796.20 211.50H1023.00M796.20 128.06H1023.00" stroke="#EBEBEB" stroke-width="1.6" fill="none"/>
<rect x="797.80" y="51.30" width="223.60" height="517.95" fill="none" stroke="#fff" stroke-width="1.6"/>
<g clip-path="url(#c3)">
<clipPath id="c3"><rect x="796.20" y="49.70" width="226.80" height="521.15"/></clipPath>
<g fill="#000" fill-opacity="0.3" stroke="#000" stroke-opacity="0.5" stroke-width="1.5">
<circle cx="869.10" cy="79.10" r="2.85"/>
<circle cx="908.80" cy="109.90" r="2.85"/>
<circle cx="862.80" cy="144.60" r="2.85"/>
<circle cx="806.40" cy="177.80" r="2.85"/>
<circle cx="856.30" cy="179.10" r="2.85"/>
<circle cx="897.30" cy="179.10" r="2.85"/>
<circle cx="943.50" cy="177.80" r="2.85"/>
<circle cx="843.30" cy="209.70" r="2.85"/>
<circle cx="848.90" cy="209.40" r="2.85"/>
<circle cx="847.40" cy="213.10" r="2.85"/>
<circle cx="862.70" cy="212.70" r="2.85"/>
<circle cx="871.70" cy="211.20" r="2.85"/>
<circle cx="877.90" cy="211.20" r="2.85"/>
<circle cx="889.60" cy="211.50" r="2.85"/>
<circle cx="890.20" cy="211.90" r="2.85"/>
<circle cx="910.00" cy="210.00" r="2.85"/>
<circle cx="861.40" cy="244.60" r="2.85"/>
<circle cx="897.00" cy="245.80" r="2.85"/>
<circle cx="907.60" cy="243.60" r="2.85"/>
<circle cx="842.10" cy="276.70" r="2.85"/>
<circle cx="849.10" cy="279.70" r="2.85"/>
<circle cx="853.60" cy="279.70" r="2.85"/>
<circle cx="866.40" cy="279.00" r="2.85"/>
<circle cx="867.00" cy="279.30" r="2.85"/>
<circle cx="874.20" cy="278.20" r="2.85"/>
<circle cx="881.10" cy="279.70" r="2.85"/>
<circle cx="881.60" cy="279.40" r="2.85"/>
<circle cx="893.30" cy="276.70" r="2.85"/>
<circle cx="893.30" cy="279.70" r="2.85"/>
<circle cx="897.70" cy="279.70" r="2.85"/>
<circle cx="907.60" cy="279.70" r="2.85"/>
<circle cx="919.10" cy="276.70" r="2.85"/>
<circle cx="889.40" cy="346.10" r="2.85"/>
<circle cx="902.50" cy="343.60" r="2.85"/>
<circle cx="874.10" cy="379.40" r="2.85"/>
</g>
<path d="M807.30 104.91L808.79 107.95L810.27 110.96L811.77 113.94L813.26 116.89L814.75 119.81L816.23 122.71L817.72 125.58L819.21 128.41L820.70 131.22L822.19 134.00L823.68 136.75L825.16 139.47L826.66 142.16L828.15 144.82L829.64 147.45L831.12 150.04L832.61 152.60L834.10 155.13L835.59 157.62L837.08 160.08L838.56 162.50L840.05 164.88L841.54 167.22L843.04 169.53L844.52 171.79L846.01 174.00L847.50 176.17L848.99 178.29L850.48 180.36L851.97 182.37L853.45 184.33L854.94 186.23L856.43 188.06L857.92 189.83L859.41 191.52L860.90 193.14L862.39 194.68L863.88 196.13L865.37 197.49L866.86 198.76L868.34 199.93L869.83 200.98L871.32 201.93L872.81 202.77L874.30 203.50L875.79 204.10L877.28 204.58L878.77 204.94L880.26 205.18L881.74 205.30L883.23 205.30L884.72 205.19L886.21 204.97L887.70 204.65L889.19 204.23L890.67 203.71L892.17 203.11L893.66 202.42L895.15 201.66L896.63 200.82L898.12 199.92L899.61 198.95L901.10 197.92L902.59 196.84L904.08 195.71L905.56 194.53L907.05 193.31L908.55 192.05L910.04 190.74L911.52 189.40L913.01 188.03L914.50 186.62L915.99 185.19L917.48 183.72L918.97 182.23L920.45 180.71L921.94 179.17L923.44 177.60L924.92 176.01L926.41 174.40L927.90 172.77L929.39 171.12L930.88 169.45L932.37 167.76L933.85 166.05L935.34 164.32L936.83 162.57L938.32 160.81L939.81 159.04L941.30 157.24L941.30 326.33L939.81 324.83L938.32 323.32L936.83 321.81L935.34 320.29L933.85 318.77L932.37 317.25L930.88 315.71L929.39 314.18L927.90 312.65L926.41 311.11L924.92 309.57L923.44 308.03L921.94 306.49L920.45 304.95L918.97 303.42L917.48 301.88L915.99 300.36L914.50 298.83L913.01 297.32L911.52 295.82L910.04 294.32L908.55 292.84L907.05 291.38L905.56 289.93L904.08 288.51L902.59 287.11L901.10 285.73L899.61 284.39L898.12 283.09L896.63 281.82L895.15 280.60L893.66 279.42L892.17 278.30L890.67 277.24L889.19 276.25L887.70 275.32L886.21 274.47L884.72 273.70L883.23 273.02L881.74 272.42L880.26 271.92L878.77 271.51L877.28 271.20L875.79 270.98L874.30 270.86L872.81 270.84L871.32 270.90L869.83 271.06L868.34 271.30L866.86 271.62L865.37 272.02L863.88 272.48L862.39 273.02L860.90 273.61L859.41 274.26L857.92 274.96L856.43 275.70L854.94 276.49L853.45 277.31L851.97 278.17L850.48 279.06L848.99 279.98L847.50 280.92L846.01 281.89L844.52 282.87L843.04 283.88L841.54 284.90L840.05 285.93L838.56 286.98L837.08 288.04L835.59 289.11L834.10 290.18L832.61 291.27L831.12 292.36L829.64 293.45L828.15 294.56L826.66 295.66L825.16 296.77L823.68 297.88L822.19 299.00L820.70 300.11L819.21 301.22L817.72 302.34L816.23 303.46L814.75 304.58L813.26 305.69L811.77 306.81L810.27 307.92L808.79 309.04L807.30 310.15Z" fill="#999999" fill-opacity="0.5"/>
<path d="M807.30 223.50L808.79 223.85L810.27 224.21L811.77 224.56L813.26 224.91L814.75 225.26L816.23 225.61L817.72 225.97L819.21 226.32L820.70 226.67L822.19 227.02L823.68 227.37L825.16 227.71L826.66 228.06L828.15 228.41L829.64 228.76L831.12 229.11L832.61 229.46L834.10 229.80L835.59 230.15L837.08 230.49L838.56 230.84L840.05 231.19L841.54 231.53L843.04 231.88L844.52 232.22L846.01 232.56L847.50 232.91L848.99 233.25L850.48 233.59L851.97 233.94L853.45 234.28L854.94 234.62L856.43 234.96L857.92 235.30L859.41 235.64L860.90 235.98L862.39 236.32L863.88 236.66L865.37 237.00L866.86 237.34L868.34 237.68L869.83 238.01L871.32 238.35L872.81 238.69L874.30 239.03L875.79 239.36L877.28 239.70L878.77 240.03L880.26 240.37L881.74 240.70L883.23 241.04L884.72 241.37L886.21 241.71L887.70 242.04L889.19 242.37L890.67 242.70L892.17 243.04L893.66 243.37L895.15 243.70L896.63 244.03L898.12 244.36L899.61 244.69L901.10 245.02L902.59 245.35L904.08 245.68L905.56 246.01L907.05 246.34L908.55 246.67L910.04 247.00L911.52 247.32L913.01 247.65L914.50 247.98L915.99 248.30L917.48 248.63L918.97 248.95L920.45 249.28L921.94 249.61L923.44 249.93L924.92 250.26L926.41 250.58L927.90 250.90L929.39 251.23L930.88 251.55L932.37 251.87L933.85 252.20L935.34 252.52L936.83 252.84L938.32 253.16L939.81 253.48L941.30 253.80" stroke="#FF0000" stroke-width="3.6" fill="none" stroke-linejoin="round"/>
</g>
<rect x="796.20" y="3.80" width="226.80" height="45.90" fill="none" stroke="#333333" stroke-width="1.35"/>
<rect x="796.20" y="49.70" width="226.80" height="521.15" fill="none" stroke="#333333" stroke-width="1.35"/>
<svg x="796.20" y="3.80" width="226.80" height="45.90" overflow="hidden"><text x="111.48" y="36.80" font-size="35" letter-spacing="-0.14" fill="#1A1A1A" text-anchor="middle">Hmong-Mien</text></svg>
<path d="M822.19 603.50L819.60 603.50L819.60 586.48Q818.66 587.40 817.13 588.32Q815.61 589.24 814.38 589.70L814.38 587.12Q816.56 586.07 818.19 584.57Q819.81 583.07 820.49 581.66L822.19 581.66Z" fill="#1A1A1A"/>
<text transform="translate(889.60 603.5) scale(1 1.075)" font-size="29.5" fill="#1A1A1A" text-anchor="middle">2</text>
<text transform="translate(959.80 603.5) scale(1 1.075)" font-size="29.5" fill="#1A1A1A" text-anchor="middle">3</text>
<path d="M828.40 570.85V575.65M898.60 570.85V575.65M968.80 570.85V575.65" stroke="#333333" stroke-width="1.4"/>
<rect x="1032.20" y="3.80" width="228.00" height="45.90" fill="#D9D9D9"/>
<rect x="1033.70" y="5.30" width="225.00" height="42.90" fill="none" stroke="#E6E6E6" stroke-width="1"/>
<rect x="1032.20" y="49.70" width="228.00" height="521.15" fill="#fff"/>
<path d="M1065.17 49.70V570.85M1100.32 49.70V570.85M1135.47 49.70V570.85M1170.62 49.70V570.85M1205.77 49.70V570.85M1240.92 49.70V570.85M1032.20 545.26H1260.20M1032.20 461.82H1260.20M1032.20 378.38H1260.20M1032.20 294.94H1260.20M1032.20 211.50H1260.20M1032.20 128.06H1260.20" stroke="#EBEBEB" stroke-width="1.6" fill="none"/>
<rect x="1033.80" y="51.30" width="224.80" height="517.95" fill="none" stroke="#fff" stroke-width="1.6"/>
<g clip-path="url(#c4)">
<clipPath id="c4"><rect x="1032.20" y="49.70" width="228.00" height="521.15"/></clipPath>
<g fill="#000" fill-opacity="0.3" stroke="#000" stroke-opacity="0.5" stroke-width="1.5">
<circle cx="1159.00" cy="79.10" r="2.85"/>
<circle cx="1166.60" cy="77.80" r="2.85"/>
<circle cx="1112.80" cy="146.00" r="2.85"/>
<circle cx="1135.80" cy="144.70" r="2.85"/>
<circle cx="1129.50" cy="177.90" r="2.85"/>
<circle cx="1152.50" cy="179.20" r="2.85"/>
<circle cx="1074.30" cy="212.60" r="2.85"/>
<circle cx="1095.00" cy="210.20" r="2.85"/>
<circle cx="1115.20" cy="211.30" r="2.85"/>
<circle cx="1117.80" cy="211.30" r="2.85"/>
<circle cx="1129.30" cy="210.20" r="2.85"/>
<circle cx="1136.20" cy="212.60" r="2.85"/>
<circle cx="1183.40" cy="211.10" r="2.85"/>
<circle cx="1187.90" cy="212.20" r="2.85"/>
<circle cx="1096.10" cy="244.90" r="2.85"/>
<circle cx="1102.60" cy="244.90" r="2.85"/>
<circle cx="1112.80" cy="244.90" r="2.85"/>
<circle cx="1150.30" cy="244.90" r="2.85"/>
<circle cx="1179.20" cy="244.90" r="2.85"/>
<circle cx="1207.50" cy="246.00" r="2.85"/>
<circle cx="1216.60" cy="244.70" r="2.85"/>
<circle cx="1110.20" cy="280.80" r="2.85"/>
<circle cx="1115.60" cy="279.50" r="2.85"/>
<circle cx="1121.70" cy="278.20" r="2.85"/>
<circle cx="1125.80" cy="276.90" r="2.85"/>
<circle cx="1134.70" cy="279.00" r="2.85"/>
<circle cx="1097.10" cy="312.90" r="2.85"/>
<circle cx="1110.20" cy="312.90" r="2.85"/>
<circle cx="1121.70" cy="310.10" r="2.85"/>
<circle cx="1125.80" cy="312.90" r="2.85"/>
<circle cx="1129.70" cy="312.90" r="2.85"/>
<circle cx="1103.90" cy="343.50" r="2.85"/>
<circle cx="1120.40" cy="347.40" r="2.85"/>
<circle cx="1147.50" cy="346.10" r="2.85"/>
<circle cx="1088.50" cy="379.30" r="2.85"/>
<circle cx="1148.60" cy="379.30" r="2.85"/>
<circle cx="1110.20" cy="445.10" r="2.85"/>
</g>
<path d="M1077.40 227.04L1078.93 227.24L1080.46 227.43L1081.99 227.62L1083.52 227.79L1085.05 227.95L1086.58 228.10L1088.11 228.24L1089.64 228.37L1091.17 228.48L1092.70 228.57L1094.23 228.65L1095.76 228.71L1097.29 228.75L1098.82 228.77L1100.35 228.77L1101.88 228.74L1103.41 228.69L1104.94 228.61L1106.47 228.51L1108.00 228.36L1109.53 228.19L1111.06 227.97L1112.59 227.72L1114.12 227.43L1115.65 227.09L1117.18 226.71L1118.71 226.27L1120.24 225.78L1121.77 225.23L1123.30 224.62L1124.83 223.95L1126.36 223.21L1127.89 222.40L1129.42 221.53L1130.95 220.57L1132.48 219.55L1134.01 218.45L1135.54 217.27L1137.07 216.01L1138.60 214.68L1140.13 213.26L1141.66 211.77L1143.19 210.21L1144.72 208.57L1146.25 206.85L1147.78 205.07L1149.31 203.21L1150.84 201.29L1152.37 199.30L1153.90 197.25L1155.43 195.14L1156.96 192.97L1158.49 190.74L1160.02 188.46L1161.55 186.12L1163.08 183.73L1164.61 181.29L1166.14 178.81L1167.67 176.27L1169.20 173.70L1170.73 171.07L1172.26 168.41L1173.79 165.70L1175.32 162.95L1176.85 160.16L1178.38 157.33L1179.91 154.46L1181.44 151.56L1182.97 148.62L1184.50 145.64L1186.03 142.63L1187.56 139.57L1189.09 136.49L1190.62 133.37L1192.15 130.21L1193.68 127.02L1195.21 123.80L1196.74 120.54L1198.27 117.25L1199.80 113.93L1201.33 110.57L1202.86 107.18L1204.39 103.76L1205.92 100.30L1207.45 96.81L1208.98 93.28L1210.51 89.73L1212.04 86.14L1213.57 82.52L1215.10 78.86L1215.10 280.71L1213.57 280.36L1212.04 280.03L1210.51 279.70L1208.98 279.38L1207.45 279.05L1205.92 278.74L1204.39 278.43L1202.86 278.12L1201.33 277.82L1199.80 277.53L1198.27 277.24L1196.74 276.96L1195.21 276.68L1193.68 276.42L1192.15 276.16L1190.62 275.90L1189.09 275.66L1187.56 275.43L1186.03 275.20L1184.50 274.99L1182.97 274.79L1181.44 274.60L1179.91 274.42L1178.38 274.25L1176.85 274.10L1175.32 273.97L1173.79 273.85L1172.26 273.75L1170.73 273.66L1169.20 273.60L1167.67 273.56L1166.14 273.53L1164.61 273.54L1163.08 273.57L1161.55 273.62L1160.02 273.71L1158.49 273.82L1156.96 273.97L1155.43 274.16L1153.90 274.38L1152.37 274.64L1150.84 274.94L1149.31 275.29L1147.78 275.69L1146.25 276.13L1144.72 276.62L1143.19 277.17L1141.66 277.77L1140.13 278.43L1138.60 279.14L1137.07 279.91L1135.54 280.74L1134.01 281.63L1132.48 282.57L1130.95 283.58L1129.42 284.63L1127.89 285.74L1126.36 286.91L1124.83 288.12L1123.30 289.39L1121.77 290.69L1120.24 292.04L1118.71 293.43L1117.18 294.85L1115.65 296.31L1114.12 297.80L1112.59 299.31L1111.06 300.85L1109.53 302.41L1108.00 303.99L1106.47 305.59L1104.94 307.21L1103.41 308.83L1101.88 310.47L1100.35 312.12L1098.82 313.77L1097.29 315.43L1095.76 317.10L1094.23 318.77L1092.70 320.44L1091.17 322.11L1089.64 323.78L1088.11 325.45L1086.58 327.12L1085.05 328.79L1083.52 330.45L1081.99 332.11L1080.46 333.77L1078.93 335.42L1077.40 337.06Z" fill="#999999" fill-opacity="0.5"/>
<path d="M1077.40 287.86L1078.93 286.93L1080.46 285.99L1081.99 285.06L1083.52 284.12L1085.05 283.17L1086.58 282.23L1088.11 281.29L1089.64 280.33L1091.17 279.38L1092.70 278.43L1094.23 277.47L1095.76 276.51L1097.29 275.55L1098.82 274.59L1100.35 273.62L1101.88 272.65L1103.41 271.68L1104.94 270.71L1106.47 269.73L1108.00 268.75L1109.53 267.77L1111.06 266.79L1112.59 265.80L1114.12 264.81L1115.65 263.82L1117.18 262.83L1118.71 261.83L1120.24 260.83L1121.77 259.83L1123.30 258.83L1124.83 257.82L1126.36 256.81L1127.89 255.80L1129.42 254.79L1130.95 253.77L1132.48 252.75L1134.01 251.73L1135.54 250.71L1137.07 249.68L1138.60 248.65L1140.13 247.62L1141.66 246.59L1143.19 245.55L1144.72 244.51L1146.25 243.47L1147.78 242.43L1149.31 241.38L1150.84 240.33L1152.37 239.28L1153.90 238.23L1155.43 237.17L1156.96 236.11L1158.49 235.05L1160.02 233.99L1161.55 232.92L1163.08 231.85L1164.61 230.78L1166.14 229.71L1167.67 228.63L1169.20 227.55L1170.73 226.47L1172.26 225.38L1173.79 224.30L1175.32 223.21L1176.85 222.12L1178.38 221.02L1179.91 219.92L1181.44 218.83L1182.97 217.72L1184.50 216.62L1186.03 215.51L1187.56 214.40L1189.09 213.29L1190.62 212.17L1192.15 211.06L1193.68 209.94L1195.21 208.82L1196.74 207.69L1198.27 206.56L1199.80 205.43L1201.33 204.30L1202.86 203.17L1204.39 202.03L1205.92 200.89L1207.45 199.74L1208.98 198.60L1210.51 197.45L1212.04 196.30L1213.57 195.15L1215.10 193.99" stroke="#FF0000" stroke-width="3.6" fill="none" stroke-linejoin="round"/>
</g>
<rect x="1032.20" y="3.80" width="228.00" height="45.90" fill="none" stroke="#333333" stroke-width="1.35"/>
<rect x="1032.20" y="49.70" width="228.00" height="521.15" fill="none" stroke="#333333" stroke-width="1.35"/>
<svg x="1032.20" y="3.80" width="228.00" height="45.90" overflow="hidden"><text x="113.03" y="36.80" font-size="35" letter-spacing="0.47" fill="#1A1A1A" text-anchor="middle">Kam-Tai</text></svg>
<path d="M1058.96 603.50L1056.37 603.50L1056.37 586.48Q1055.43 587.40 1053.90 588.32Q1052.38 589.24 1051.15 589.70L1051.15 587.12Q1053.33 586.07 1054.96 584.57Q1056.58 583.07 1057.26 581.66L1058.96 581.66Z" fill="#1A1A1A"/>
<text transform="translate(1126.47 603.5) scale(1 1.075)" font-size="29.5" fill="#1A1A1A" text-anchor="middle">2</text>
<text transform="translate(1196.77 603.5) scale(1 1.075)" font-size="29.5" fill="#1A1A1A" text-anchor="middle">3</text>
<path d="M1065.17 570.85V575.65M1135.47 570.85V575.65M1205.77 570.85V575.65" stroke="#333333" stroke-width="1.4"/>
<rect x="1269.80" y="3.80" width="226.80" height="45.90" fill="#D9D9D9"/>
<rect x="1271.30" y="5.30" width="223.80" height="42.90" fill="none" stroke="#E6E6E6" stroke-width="1"/>
<rect x="1269.80" y="49.70" width="226.80" height="521.15" fill="#fff"/>
<path d="M1301.87 49.70V570.85M1336.99 49.70V570.85M1372.12 49.70V570.85M1407.24 49.70V570.85M1442.37 49.70V570.85M1477.49 49.70V570.85M1269.80 545.26H1496.60M1269.80 461.82H1496.60M1269.80 378.38H1496.60M1269.80 294.94H1496.60M1269.80 211.50H1496.60M1269.80 128.06H1496.60" stroke="#EBEBEB" stroke-width="1.6" fill="none"/>
<rect x="1271.40" y="51.30" width="223.60" height="517.95" fill="none" stroke="#fff" stroke-width="1.6"/>
<g clip-path="url(#c5)">
<clipPath id="c5"><rect x="1269.80" y="49.70" width="226.80" height="521.15"/></clipPath>
<g fill="#000" fill-opacity="0.3" stroke="#000" stroke-opacity="0.5" stroke-width="1.5">
<circle cx="1383.20" cy="246.10" r="2.85"/>
<circle cx="1333.50" cy="279.60" r="2.85"/>
<circle cx="1306.50" cy="344.90" r="2.85"/>
<circle cx="1328.20" cy="344.90" r="2.85"/>
<circle cx="1356.40" cy="343.70" r="2.85"/>
<circle cx="1361.40" cy="378.00" r="2.85"/>
<circle cx="1364.10" cy="412.90" r="2.85"/>
<circle cx="1360.20" cy="446.40" r="2.85"/>
<circle cx="1361.50" cy="543.90" r="2.85"/>
<circle cx="1371.90" cy="545.20" r="2.85"/>
<circle cx="1372.60" cy="545.60" r="2.85"/>
<circle cx="1381.80" cy="545.20" r="2.85"/>
<circle cx="1389.80" cy="546.40" r="2.85"/>
</g>
<path d="M1304.80 89.68L1305.73 99.86L1306.65 109.79L1307.57 119.49L1308.49 128.95L1309.42 138.18L1310.35 147.19L1311.27 155.99L1312.20 164.56L1313.12 172.93L1314.04 181.08L1314.97 189.04L1315.89 196.80L1316.82 204.36L1317.74 211.74L1318.67 218.92L1319.59 225.92L1320.51 232.74L1321.44 239.38L1322.36 245.85L1323.29 252.15L1324.22 258.27L1325.14 264.24L1326.06 270.03L1326.98 275.68L1327.91 281.16L1328.84 286.49L1329.76 291.66L1330.69 296.69L1331.61 301.57L1332.53 306.30L1333.45 310.90L1334.38 315.35L1335.31 319.67L1336.23 323.85L1337.16 327.90L1338.08 331.82L1339.00 335.61L1339.93 339.28L1340.85 342.83L1341.78 346.26L1342.70 349.57L1343.63 352.77L1344.55 355.86L1345.47 358.84L1346.40 361.73L1347.32 364.51L1348.25 367.19L1349.18 369.79L1350.10 372.29L1351.02 374.71L1351.94 377.05L1352.87 379.31L1353.80 381.49L1354.72 383.61L1355.65 385.66L1356.57 387.64L1357.49 389.57L1358.42 391.43L1359.34 393.25L1360.27 395.01L1361.19 396.73L1362.12 398.40L1363.04 400.02L1363.96 401.61L1364.89 403.16L1365.81 404.67L1366.74 406.15L1367.66 407.59L1368.59 409.01L1369.51 410.40L1370.43 411.76L1371.36 413.10L1372.28 414.41L1373.21 415.70L1374.14 416.98L1375.06 418.23L1375.98 419.46L1376.90 420.67L1377.83 421.87L1378.76 423.05L1379.68 424.22L1380.61 425.37L1381.53 426.50L1382.45 427.63L1383.38 428.74L1384.30 429.84L1385.23 430.92L1386.15 432.00L1387.08 433.07L1388.00 434.12L1388.00 504.22L1387.08 503.21L1386.15 502.18L1385.23 501.13L1384.30 500.06L1383.38 498.96L1382.45 497.85L1381.53 496.71L1380.61 495.54L1379.68 494.36L1378.76 493.15L1377.83 491.92L1376.90 490.66L1375.98 489.38L1375.06 488.08L1374.14 486.76L1373.21 485.41L1372.28 484.04L1371.36 482.64L1370.43 481.22L1369.51 479.79L1368.59 478.33L1367.66 476.85L1366.74 475.35L1365.81 473.83L1364.89 472.29L1363.96 470.73L1363.04 469.16L1362.12 467.57L1361.19 465.97L1360.27 464.35L1359.34 462.72L1358.42 461.09L1357.49 459.44L1356.57 457.78L1355.65 456.13L1354.72 454.46L1353.80 452.80L1352.87 451.13L1351.94 449.47L1351.02 447.82L1350.10 446.16L1349.18 444.52L1348.25 442.89L1347.32 441.27L1346.40 439.66L1345.47 438.07L1344.55 436.49L1343.63 434.94L1342.70 433.40L1341.78 431.89L1340.85 430.39L1339.93 428.91L1339.00 427.46L1338.08 426.04L1337.16 424.63L1336.23 423.25L1335.31 421.90L1334.38 420.56L1333.45 419.26L1332.53 417.97L1331.61 416.71L1330.69 415.47L1329.76 414.25L1328.84 413.06L1327.91 411.89L1326.98 410.74L1326.06 409.61L1325.14 408.50L1324.22 407.41L1323.29 406.34L1322.36 405.29L1321.44 404.26L1320.51 403.25L1319.59 402.25L1318.67 401.27L1317.74 400.31L1316.82 399.36L1315.89 398.43L1314.97 397.52L1314.04 396.62L1313.12 395.74L1312.20 394.87L1311.27 394.01L1310.35 393.17L1309.42 392.34L1308.49 391.53L1307.57 390.73L1306.65 389.95L1305.73 389.17L1304.80 388.41Z" fill="#999999" fill-opacity="0.5"/>
<path d="M1304.80 277.94L1305.73 281.59L1306.65 285.19L1307.57 288.76L1308.49 292.28L1309.42 295.76L1310.35 299.21L1311.27 302.61L1312.20 305.98L1313.12 309.31L1314.04 312.60L1314.97 315.85L1315.89 319.07L1316.82 322.24L1317.74 325.39L1318.67 328.49L1319.59 331.56L1320.51 334.59L1321.44 337.58L1322.36 340.54L1323.29 343.47L1324.22 346.36L1325.14 349.22L1326.06 352.04L1326.98 354.83L1327.91 357.58L1328.84 360.30L1329.76 362.99L1330.69 365.64L1331.61 368.27L1332.53 370.86L1333.45 373.41L1334.38 375.94L1335.31 378.44L1336.23 380.90L1337.16 383.34L1338.08 385.74L1339.00 388.11L1339.93 390.46L1340.85 392.77L1341.78 395.05L1342.70 397.31L1343.63 399.53L1344.55 401.73L1345.47 403.90L1346.40 406.05L1347.32 408.16L1348.25 410.24L1349.18 412.31L1350.10 414.34L1351.02 416.35L1351.94 418.32L1352.87 420.28L1353.80 422.21L1354.72 424.11L1355.65 425.99L1356.57 427.84L1357.49 429.67L1358.42 431.47L1359.34 433.25L1360.27 435.01L1361.19 436.74L1362.12 438.44L1363.04 440.13L1363.96 441.79L1364.89 443.43L1365.81 445.05L1366.74 446.64L1367.66 448.21L1368.59 449.76L1369.51 451.29L1370.43 452.80L1371.36 454.29L1372.28 455.76L1373.21 457.20L1374.14 458.63L1375.06 460.03L1375.98 461.42L1376.90 462.78L1377.83 464.13L1378.76 465.46L1379.68 466.77L1380.61 468.05L1381.53 469.33L1382.45 470.58L1383.38 471.81L1384.30 473.03L1385.23 474.23L1386.15 475.41L1387.08 476.58L1388.00 477.72" stroke="#FF0000" stroke-width="3.6" fill="none" stroke-linejoin="round"/>
</g>
<rect x="1269.80" y="3.80" width="226.80" height="45.90" fill="none" stroke="#333333" stroke-width="1.35"/>
<rect x="1269.80" y="49.70" width="226.80" height="521.15" fill="none" stroke="#333333" stroke-width="1.35"/>
<svg x="1269.80" y="3.80" width="226.80" height="45.90" overflow="hidden"><text x="112.40" y="36.80" font-size="35" letter-spacing="0.11" fill="#1A1A1A" text-anchor="middle">Austroasiatic</text></svg>
<path d="M1295.66 603.50L1293.07 603.50L1293.07 586.48Q1292.13 587.40 1290.60 588.32Q1289.08 589.24 1287.85 589.70L1287.85 587.12Q1290.03 586.07 1291.66 584.57Q1293.28 583.07 1293.96 581.66L1295.66 581.66Z" fill="#1A1A1A"/>
<text transform="translate(1363.12 603.5) scale(1 1.075)" font-size="29.5" fill="#1A1A1A" text-anchor="middle">2</text>
<text transform="translate(1433.37 603.5) scale(1 1.075)" font-size="29.5" fill="#1A1A1A" text-anchor="middle">3</text>
<path d="M1301.87 570.85V575.65M1372.12 570.85V575.65M1442.37 570.85V575.65" stroke="#333333" stroke-width="1.4"/>
<text transform="translate(75.6 557.76) scale(1 1.04)" font-size="30" fill="#1A1A1A" text-anchor="end">0</text>
<text transform="translate(75.6 390.88) scale(1 1.04)" font-size="30" fill="#1A1A1A" text-anchor="end">5</text>
<path d="M53.82 223.80L51.18 223.80L51.18 207.00Q50.23 207.91 48.68 208.81Q47.12 209.72 45.88 210.18L45.88 207.63Q48.09 206.59 49.74 205.11Q51.40 203.63 52.09 202.24L53.82 202.24Z" fill="#1A1A1A"/>
<text transform="translate(75.6 224.00) scale(1 1.04)" font-size="30" fill="#1A1A1A" text-anchor="end">0</text>
<path d="M80.05 545.26H85.85M80.05 378.38H85.85M80.05 211.50H85.85" stroke="#333333" stroke-width="1.4"/>
<text x="791.2" y="641.6" font-size="38.1" fill="#000" text-anchor="middle">Jitter</text>
<text transform="translate(31.2 309.5) rotate(-90)" x="0" y="0" font-size="39.2" fill="#000" text-anchor="middle">Tone</text>
</svg></body></html>
